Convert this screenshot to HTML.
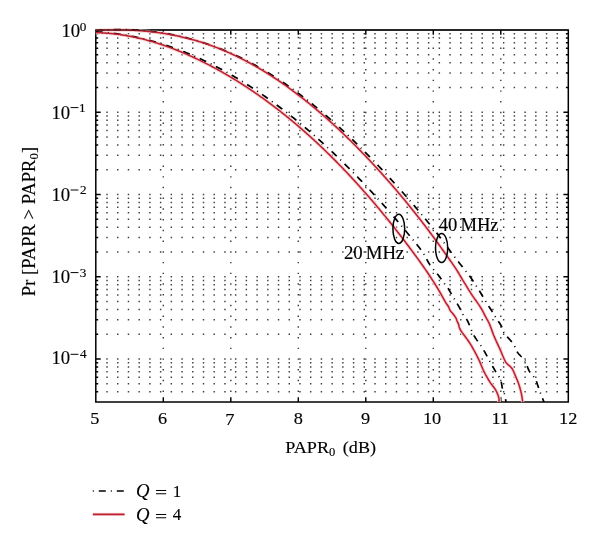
<!DOCTYPE html>
<html><head><meta charset="utf-8"><style>
html,body{margin:0;padding:0;background:#fff;width:600px;height:547px;overflow:hidden}
svg{position:absolute;left:0;top:0;display:block;will-change:transform}
</style></head><body>
<svg width="600" height="547" viewBox="0 0 600 547">
<path d="M106.30,111.52h1.45v1.45h-1.45zM117.02,111.52h1.45v1.45h-1.45zM127.74,111.52h1.45v1.45h-1.45zM138.46,111.52h1.45v1.45h-1.45zM149.18,111.52h1.45v1.45h-1.45zM159.90,111.52h1.45v1.45h-1.45zM170.62,111.52h1.45v1.45h-1.45zM181.34,111.52h1.45v1.45h-1.45zM192.06,111.52h1.45v1.45h-1.45zM202.78,111.52h1.45v1.45h-1.45zM213.50,111.52h1.45v1.45h-1.45zM224.22,111.52h1.45v1.45h-1.45zM234.94,111.52h1.45v1.45h-1.45zM245.66,111.52h1.45v1.45h-1.45zM256.38,111.52h1.45v1.45h-1.45zM267.10,111.52h1.45v1.45h-1.45zM277.82,111.52h1.45v1.45h-1.45zM288.54,111.52h1.45v1.45h-1.45zM299.26,111.52h1.45v1.45h-1.45zM309.98,111.52h1.45v1.45h-1.45zM320.70,111.52h1.45v1.45h-1.45zM331.42,111.52h1.45v1.45h-1.45zM342.14,111.52h1.45v1.45h-1.45zM352.86,111.52h1.45v1.45h-1.45zM363.58,111.52h1.45v1.45h-1.45zM374.30,111.52h1.45v1.45h-1.45zM385.02,111.52h1.45v1.45h-1.45zM395.74,111.52h1.45v1.45h-1.45zM406.46,111.52h1.45v1.45h-1.45zM417.18,111.52h1.45v1.45h-1.45zM427.90,111.52h1.45v1.45h-1.45zM438.62,111.52h1.45v1.45h-1.45zM449.34,111.52h1.45v1.45h-1.45zM460.06,111.52h1.45v1.45h-1.45zM470.78,111.52h1.45v1.45h-1.45zM481.50,111.52h1.45v1.45h-1.45zM492.22,111.52h1.45v1.45h-1.45zM502.94,111.52h1.45v1.45h-1.45zM513.66,111.52h1.45v1.45h-1.45zM524.38,111.52h1.45v1.45h-1.45zM535.10,111.52h1.45v1.45h-1.45zM545.82,111.52h1.45v1.45h-1.45zM556.54,111.52h1.45v1.45h-1.45zM106.30,86.76h1.45v1.45h-1.45zM117.02,86.76h1.45v1.45h-1.45zM127.74,86.76h1.45v1.45h-1.45zM138.46,86.76h1.45v1.45h-1.45zM149.18,86.76h1.45v1.45h-1.45zM159.90,86.76h1.45v1.45h-1.45zM170.62,86.76h1.45v1.45h-1.45zM181.34,86.76h1.45v1.45h-1.45zM192.06,86.76h1.45v1.45h-1.45zM202.78,86.76h1.45v1.45h-1.45zM213.50,86.76h1.45v1.45h-1.45zM224.22,86.76h1.45v1.45h-1.45zM234.94,86.76h1.45v1.45h-1.45zM245.66,86.76h1.45v1.45h-1.45zM256.38,86.76h1.45v1.45h-1.45zM267.10,86.76h1.45v1.45h-1.45zM277.82,86.76h1.45v1.45h-1.45zM288.54,86.76h1.45v1.45h-1.45zM299.26,86.76h1.45v1.45h-1.45zM309.98,86.76h1.45v1.45h-1.45zM320.70,86.76h1.45v1.45h-1.45zM331.42,86.76h1.45v1.45h-1.45zM342.14,86.76h1.45v1.45h-1.45zM352.86,86.76h1.45v1.45h-1.45zM363.58,86.76h1.45v1.45h-1.45zM374.30,86.76h1.45v1.45h-1.45zM385.02,86.76h1.45v1.45h-1.45zM395.74,86.76h1.45v1.45h-1.45zM406.46,86.76h1.45v1.45h-1.45zM417.18,86.76h1.45v1.45h-1.45zM427.90,86.76h1.45v1.45h-1.45zM438.62,86.76h1.45v1.45h-1.45zM449.34,86.76h1.45v1.45h-1.45zM460.06,86.76h1.45v1.45h-1.45zM470.78,86.76h1.45v1.45h-1.45zM481.50,86.76h1.45v1.45h-1.45zM492.22,86.76h1.45v1.45h-1.45zM502.94,86.76h1.45v1.45h-1.45zM513.66,86.76h1.45v1.45h-1.45zM524.38,86.76h1.45v1.45h-1.45zM535.10,86.76h1.45v1.45h-1.45zM545.82,86.76h1.45v1.45h-1.45zM556.54,86.76h1.45v1.45h-1.45zM106.30,72.28h1.45v1.45h-1.45zM117.02,72.28h1.45v1.45h-1.45zM127.74,72.28h1.45v1.45h-1.45zM138.46,72.28h1.45v1.45h-1.45zM149.18,72.28h1.45v1.45h-1.45zM159.90,72.28h1.45v1.45h-1.45zM170.62,72.28h1.45v1.45h-1.45zM181.34,72.28h1.45v1.45h-1.45zM192.06,72.28h1.45v1.45h-1.45zM202.78,72.28h1.45v1.45h-1.45zM213.50,72.28h1.45v1.45h-1.45zM224.22,72.28h1.45v1.45h-1.45zM234.94,72.28h1.45v1.45h-1.45zM245.66,72.28h1.45v1.45h-1.45zM256.38,72.28h1.45v1.45h-1.45zM267.10,72.28h1.45v1.45h-1.45zM277.82,72.28h1.45v1.45h-1.45zM288.54,72.28h1.45v1.45h-1.45zM299.26,72.28h1.45v1.45h-1.45zM309.98,72.28h1.45v1.45h-1.45zM320.70,72.28h1.45v1.45h-1.45zM331.42,72.28h1.45v1.45h-1.45zM342.14,72.28h1.45v1.45h-1.45zM352.86,72.28h1.45v1.45h-1.45zM363.58,72.28h1.45v1.45h-1.45zM374.30,72.28h1.45v1.45h-1.45zM385.02,72.28h1.45v1.45h-1.45zM395.74,72.28h1.45v1.45h-1.45zM406.46,72.28h1.45v1.45h-1.45zM417.18,72.28h1.45v1.45h-1.45zM427.90,72.28h1.45v1.45h-1.45zM438.62,72.28h1.45v1.45h-1.45zM449.34,72.28h1.45v1.45h-1.45zM460.06,72.28h1.45v1.45h-1.45zM470.78,72.28h1.45v1.45h-1.45zM481.50,72.28h1.45v1.45h-1.45zM492.22,72.28h1.45v1.45h-1.45zM502.94,72.28h1.45v1.45h-1.45zM513.66,72.28h1.45v1.45h-1.45zM524.38,72.28h1.45v1.45h-1.45zM535.10,72.28h1.45v1.45h-1.45zM545.82,72.28h1.45v1.45h-1.45zM556.54,72.28h1.45v1.45h-1.45zM106.30,62.00h1.45v1.45h-1.45zM117.02,62.00h1.45v1.45h-1.45zM127.74,62.00h1.45v1.45h-1.45zM138.46,62.00h1.45v1.45h-1.45zM149.18,62.00h1.45v1.45h-1.45zM159.90,62.00h1.45v1.45h-1.45zM170.62,62.00h1.45v1.45h-1.45zM181.34,62.00h1.45v1.45h-1.45zM192.06,62.00h1.45v1.45h-1.45zM202.78,62.00h1.45v1.45h-1.45zM213.50,62.00h1.45v1.45h-1.45zM224.22,62.00h1.45v1.45h-1.45zM234.94,62.00h1.45v1.45h-1.45zM245.66,62.00h1.45v1.45h-1.45zM256.38,62.00h1.45v1.45h-1.45zM267.10,62.00h1.45v1.45h-1.45zM277.82,62.00h1.45v1.45h-1.45zM288.54,62.00h1.45v1.45h-1.45zM299.26,62.00h1.45v1.45h-1.45zM309.98,62.00h1.45v1.45h-1.45zM320.70,62.00h1.45v1.45h-1.45zM331.42,62.00h1.45v1.45h-1.45zM342.14,62.00h1.45v1.45h-1.45zM352.86,62.00h1.45v1.45h-1.45zM363.58,62.00h1.45v1.45h-1.45zM374.30,62.00h1.45v1.45h-1.45zM385.02,62.00h1.45v1.45h-1.45zM395.74,62.00h1.45v1.45h-1.45zM406.46,62.00h1.45v1.45h-1.45zM417.18,62.00h1.45v1.45h-1.45zM427.90,62.00h1.45v1.45h-1.45zM438.62,62.00h1.45v1.45h-1.45zM449.34,62.00h1.45v1.45h-1.45zM460.06,62.00h1.45v1.45h-1.45zM470.78,62.00h1.45v1.45h-1.45zM481.50,62.00h1.45v1.45h-1.45zM492.22,62.00h1.45v1.45h-1.45zM502.94,62.00h1.45v1.45h-1.45zM513.66,62.00h1.45v1.45h-1.45zM524.38,62.00h1.45v1.45h-1.45zM535.10,62.00h1.45v1.45h-1.45zM545.82,62.00h1.45v1.45h-1.45zM556.54,62.00h1.45v1.45h-1.45zM106.30,54.03h1.45v1.45h-1.45zM117.02,54.03h1.45v1.45h-1.45zM127.74,54.03h1.45v1.45h-1.45zM138.46,54.03h1.45v1.45h-1.45zM149.18,54.03h1.45v1.45h-1.45zM159.90,54.03h1.45v1.45h-1.45zM170.62,54.03h1.45v1.45h-1.45zM181.34,54.03h1.45v1.45h-1.45zM192.06,54.03h1.45v1.45h-1.45zM202.78,54.03h1.45v1.45h-1.45zM213.50,54.03h1.45v1.45h-1.45zM224.22,54.03h1.45v1.45h-1.45zM234.94,54.03h1.45v1.45h-1.45zM245.66,54.03h1.45v1.45h-1.45zM256.38,54.03h1.45v1.45h-1.45zM267.10,54.03h1.45v1.45h-1.45zM277.82,54.03h1.45v1.45h-1.45zM288.54,54.03h1.45v1.45h-1.45zM299.26,54.03h1.45v1.45h-1.45zM309.98,54.03h1.45v1.45h-1.45zM320.70,54.03h1.45v1.45h-1.45zM331.42,54.03h1.45v1.45h-1.45zM342.14,54.03h1.45v1.45h-1.45zM352.86,54.03h1.45v1.45h-1.45zM363.58,54.03h1.45v1.45h-1.45zM374.30,54.03h1.45v1.45h-1.45zM385.02,54.03h1.45v1.45h-1.45zM395.74,54.03h1.45v1.45h-1.45zM406.46,54.03h1.45v1.45h-1.45zM417.18,54.03h1.45v1.45h-1.45zM427.90,54.03h1.45v1.45h-1.45zM438.62,54.03h1.45v1.45h-1.45zM449.34,54.03h1.45v1.45h-1.45zM460.06,54.03h1.45v1.45h-1.45zM470.78,54.03h1.45v1.45h-1.45zM481.50,54.03h1.45v1.45h-1.45zM492.22,54.03h1.45v1.45h-1.45zM502.94,54.03h1.45v1.45h-1.45zM513.66,54.03h1.45v1.45h-1.45zM524.38,54.03h1.45v1.45h-1.45zM535.10,54.03h1.45v1.45h-1.45zM545.82,54.03h1.45v1.45h-1.45zM556.54,54.03h1.45v1.45h-1.45zM106.30,47.52h1.45v1.45h-1.45zM117.02,47.52h1.45v1.45h-1.45zM127.74,47.52h1.45v1.45h-1.45zM138.46,47.52h1.45v1.45h-1.45zM149.18,47.52h1.45v1.45h-1.45zM159.90,47.52h1.45v1.45h-1.45zM170.62,47.52h1.45v1.45h-1.45zM181.34,47.52h1.45v1.45h-1.45zM192.06,47.52h1.45v1.45h-1.45zM202.78,47.52h1.45v1.45h-1.45zM213.50,47.52h1.45v1.45h-1.45zM224.22,47.52h1.45v1.45h-1.45zM234.94,47.52h1.45v1.45h-1.45zM245.66,47.52h1.45v1.45h-1.45zM256.38,47.52h1.45v1.45h-1.45zM267.10,47.52h1.45v1.45h-1.45zM277.82,47.52h1.45v1.45h-1.45zM288.54,47.52h1.45v1.45h-1.45zM299.26,47.52h1.45v1.45h-1.45zM309.98,47.52h1.45v1.45h-1.45zM320.70,47.52h1.45v1.45h-1.45zM331.42,47.52h1.45v1.45h-1.45zM342.14,47.52h1.45v1.45h-1.45zM352.86,47.52h1.45v1.45h-1.45zM363.58,47.52h1.45v1.45h-1.45zM374.30,47.52h1.45v1.45h-1.45zM385.02,47.52h1.45v1.45h-1.45zM395.74,47.52h1.45v1.45h-1.45zM406.46,47.52h1.45v1.45h-1.45zM417.18,47.52h1.45v1.45h-1.45zM427.90,47.52h1.45v1.45h-1.45zM438.62,47.52h1.45v1.45h-1.45zM449.34,47.52h1.45v1.45h-1.45zM460.06,47.52h1.45v1.45h-1.45zM470.78,47.52h1.45v1.45h-1.45zM481.50,47.52h1.45v1.45h-1.45zM492.22,47.52h1.45v1.45h-1.45zM502.94,47.52h1.45v1.45h-1.45zM513.66,47.52h1.45v1.45h-1.45zM524.38,47.52h1.45v1.45h-1.45zM535.10,47.52h1.45v1.45h-1.45zM545.82,47.52h1.45v1.45h-1.45zM556.54,47.52h1.45v1.45h-1.45zM106.30,42.02h1.45v1.45h-1.45zM117.02,42.02h1.45v1.45h-1.45zM127.74,42.02h1.45v1.45h-1.45zM138.46,42.02h1.45v1.45h-1.45zM149.18,42.02h1.45v1.45h-1.45zM159.90,42.02h1.45v1.45h-1.45zM170.62,42.02h1.45v1.45h-1.45zM181.34,42.02h1.45v1.45h-1.45zM192.06,42.02h1.45v1.45h-1.45zM202.78,42.02h1.45v1.45h-1.45zM213.50,42.02h1.45v1.45h-1.45zM224.22,42.02h1.45v1.45h-1.45zM234.94,42.02h1.45v1.45h-1.45zM245.66,42.02h1.45v1.45h-1.45zM256.38,42.02h1.45v1.45h-1.45zM267.10,42.02h1.45v1.45h-1.45zM277.82,42.02h1.45v1.45h-1.45zM288.54,42.02h1.45v1.45h-1.45zM299.26,42.02h1.45v1.45h-1.45zM309.98,42.02h1.45v1.45h-1.45zM320.70,42.02h1.45v1.45h-1.45zM331.42,42.02h1.45v1.45h-1.45zM342.14,42.02h1.45v1.45h-1.45zM352.86,42.02h1.45v1.45h-1.45zM363.58,42.02h1.45v1.45h-1.45zM374.30,42.02h1.45v1.45h-1.45zM385.02,42.02h1.45v1.45h-1.45zM395.74,42.02h1.45v1.45h-1.45zM406.46,42.02h1.45v1.45h-1.45zM417.18,42.02h1.45v1.45h-1.45zM427.90,42.02h1.45v1.45h-1.45zM438.62,42.02h1.45v1.45h-1.45zM449.34,42.02h1.45v1.45h-1.45zM460.06,42.02h1.45v1.45h-1.45zM470.78,42.02h1.45v1.45h-1.45zM481.50,42.02h1.45v1.45h-1.45zM492.22,42.02h1.45v1.45h-1.45zM502.94,42.02h1.45v1.45h-1.45zM513.66,42.02h1.45v1.45h-1.45zM524.38,42.02h1.45v1.45h-1.45zM535.10,42.02h1.45v1.45h-1.45zM545.82,42.02h1.45v1.45h-1.45zM556.54,42.02h1.45v1.45h-1.45zM106.30,37.25h1.45v1.45h-1.45zM117.02,37.25h1.45v1.45h-1.45zM127.74,37.25h1.45v1.45h-1.45zM138.46,37.25h1.45v1.45h-1.45zM149.18,37.25h1.45v1.45h-1.45zM159.90,37.25h1.45v1.45h-1.45zM170.62,37.25h1.45v1.45h-1.45zM181.34,37.25h1.45v1.45h-1.45zM192.06,37.25h1.45v1.45h-1.45zM202.78,37.25h1.45v1.45h-1.45zM213.50,37.25h1.45v1.45h-1.45zM224.22,37.25h1.45v1.45h-1.45zM234.94,37.25h1.45v1.45h-1.45zM245.66,37.25h1.45v1.45h-1.45zM256.38,37.25h1.45v1.45h-1.45zM267.10,37.25h1.45v1.45h-1.45zM277.82,37.25h1.45v1.45h-1.45zM288.54,37.25h1.45v1.45h-1.45zM299.26,37.25h1.45v1.45h-1.45zM309.98,37.25h1.45v1.45h-1.45zM320.70,37.25h1.45v1.45h-1.45zM331.42,37.25h1.45v1.45h-1.45zM342.14,37.25h1.45v1.45h-1.45zM352.86,37.25h1.45v1.45h-1.45zM363.58,37.25h1.45v1.45h-1.45zM374.30,37.25h1.45v1.45h-1.45zM385.02,37.25h1.45v1.45h-1.45zM395.74,37.25h1.45v1.45h-1.45zM406.46,37.25h1.45v1.45h-1.45zM417.18,37.25h1.45v1.45h-1.45zM427.90,37.25h1.45v1.45h-1.45zM438.62,37.25h1.45v1.45h-1.45zM449.34,37.25h1.45v1.45h-1.45zM460.06,37.25h1.45v1.45h-1.45zM470.78,37.25h1.45v1.45h-1.45zM481.50,37.25h1.45v1.45h-1.45zM492.22,37.25h1.45v1.45h-1.45zM502.94,37.25h1.45v1.45h-1.45zM513.66,37.25h1.45v1.45h-1.45zM524.38,37.25h1.45v1.45h-1.45zM535.10,37.25h1.45v1.45h-1.45zM545.82,37.25h1.45v1.45h-1.45zM556.54,37.25h1.45v1.45h-1.45zM106.30,33.04h1.45v1.45h-1.45zM117.02,33.04h1.45v1.45h-1.45zM127.74,33.04h1.45v1.45h-1.45zM138.46,33.04h1.45v1.45h-1.45zM149.18,33.04h1.45v1.45h-1.45zM159.90,33.04h1.45v1.45h-1.45zM170.62,33.04h1.45v1.45h-1.45zM181.34,33.04h1.45v1.45h-1.45zM192.06,33.04h1.45v1.45h-1.45zM202.78,33.04h1.45v1.45h-1.45zM213.50,33.04h1.45v1.45h-1.45zM224.22,33.04h1.45v1.45h-1.45zM234.94,33.04h1.45v1.45h-1.45zM245.66,33.04h1.45v1.45h-1.45zM256.38,33.04h1.45v1.45h-1.45zM267.10,33.04h1.45v1.45h-1.45zM277.82,33.04h1.45v1.45h-1.45zM288.54,33.04h1.45v1.45h-1.45zM299.26,33.04h1.45v1.45h-1.45zM309.98,33.04h1.45v1.45h-1.45zM320.70,33.04h1.45v1.45h-1.45zM331.42,33.04h1.45v1.45h-1.45zM342.14,33.04h1.45v1.45h-1.45zM352.86,33.04h1.45v1.45h-1.45zM363.58,33.04h1.45v1.45h-1.45zM374.30,33.04h1.45v1.45h-1.45zM385.02,33.04h1.45v1.45h-1.45zM395.74,33.04h1.45v1.45h-1.45zM406.46,33.04h1.45v1.45h-1.45zM417.18,33.04h1.45v1.45h-1.45zM427.90,33.04h1.45v1.45h-1.45zM438.62,33.04h1.45v1.45h-1.45zM449.34,33.04h1.45v1.45h-1.45zM460.06,33.04h1.45v1.45h-1.45zM470.78,33.04h1.45v1.45h-1.45zM481.50,33.04h1.45v1.45h-1.45zM492.22,33.04h1.45v1.45h-1.45zM502.94,33.04h1.45v1.45h-1.45zM513.66,33.04h1.45v1.45h-1.45zM524.38,33.04h1.45v1.45h-1.45zM535.10,33.04h1.45v1.45h-1.45zM545.82,33.04h1.45v1.45h-1.45zM556.54,33.04h1.45v1.45h-1.45zM106.30,193.77h1.45v1.45h-1.45zM117.02,193.77h1.45v1.45h-1.45zM127.74,193.77h1.45v1.45h-1.45zM138.46,193.77h1.45v1.45h-1.45zM149.18,193.77h1.45v1.45h-1.45zM159.90,193.77h1.45v1.45h-1.45zM170.62,193.77h1.45v1.45h-1.45zM181.34,193.77h1.45v1.45h-1.45zM192.06,193.77h1.45v1.45h-1.45zM202.78,193.77h1.45v1.45h-1.45zM213.50,193.77h1.45v1.45h-1.45zM224.22,193.77h1.45v1.45h-1.45zM234.94,193.77h1.45v1.45h-1.45zM245.66,193.77h1.45v1.45h-1.45zM256.38,193.77h1.45v1.45h-1.45zM267.10,193.77h1.45v1.45h-1.45zM277.82,193.77h1.45v1.45h-1.45zM288.54,193.77h1.45v1.45h-1.45zM299.26,193.77h1.45v1.45h-1.45zM309.98,193.77h1.45v1.45h-1.45zM320.70,193.77h1.45v1.45h-1.45zM331.42,193.77h1.45v1.45h-1.45zM342.14,193.77h1.45v1.45h-1.45zM352.86,193.77h1.45v1.45h-1.45zM363.58,193.77h1.45v1.45h-1.45zM374.30,193.77h1.45v1.45h-1.45zM385.02,193.77h1.45v1.45h-1.45zM395.74,193.77h1.45v1.45h-1.45zM406.46,193.77h1.45v1.45h-1.45zM417.18,193.77h1.45v1.45h-1.45zM427.90,193.77h1.45v1.45h-1.45zM438.62,193.77h1.45v1.45h-1.45zM449.34,193.77h1.45v1.45h-1.45zM460.06,193.77h1.45v1.45h-1.45zM470.78,193.77h1.45v1.45h-1.45zM481.50,193.77h1.45v1.45h-1.45zM492.22,193.77h1.45v1.45h-1.45zM502.94,193.77h1.45v1.45h-1.45zM513.66,193.77h1.45v1.45h-1.45zM524.38,193.77h1.45v1.45h-1.45zM535.10,193.77h1.45v1.45h-1.45zM545.82,193.77h1.45v1.45h-1.45zM556.54,193.77h1.45v1.45h-1.45zM106.30,169.01h1.45v1.45h-1.45zM117.02,169.01h1.45v1.45h-1.45zM127.74,169.01h1.45v1.45h-1.45zM138.46,169.01h1.45v1.45h-1.45zM149.18,169.01h1.45v1.45h-1.45zM159.90,169.01h1.45v1.45h-1.45zM170.62,169.01h1.45v1.45h-1.45zM181.34,169.01h1.45v1.45h-1.45zM192.06,169.01h1.45v1.45h-1.45zM202.78,169.01h1.45v1.45h-1.45zM213.50,169.01h1.45v1.45h-1.45zM224.22,169.01h1.45v1.45h-1.45zM234.94,169.01h1.45v1.45h-1.45zM245.66,169.01h1.45v1.45h-1.45zM256.38,169.01h1.45v1.45h-1.45zM267.10,169.01h1.45v1.45h-1.45zM277.82,169.01h1.45v1.45h-1.45zM288.54,169.01h1.45v1.45h-1.45zM299.26,169.01h1.45v1.45h-1.45zM309.98,169.01h1.45v1.45h-1.45zM320.70,169.01h1.45v1.45h-1.45zM331.42,169.01h1.45v1.45h-1.45zM342.14,169.01h1.45v1.45h-1.45zM352.86,169.01h1.45v1.45h-1.45zM363.58,169.01h1.45v1.45h-1.45zM374.30,169.01h1.45v1.45h-1.45zM385.02,169.01h1.45v1.45h-1.45zM395.74,169.01h1.45v1.45h-1.45zM406.46,169.01h1.45v1.45h-1.45zM417.18,169.01h1.45v1.45h-1.45zM427.90,169.01h1.45v1.45h-1.45zM438.62,169.01h1.45v1.45h-1.45zM449.34,169.01h1.45v1.45h-1.45zM460.06,169.01h1.45v1.45h-1.45zM470.78,169.01h1.45v1.45h-1.45zM481.50,169.01h1.45v1.45h-1.45zM492.22,169.01h1.45v1.45h-1.45zM502.94,169.01h1.45v1.45h-1.45zM513.66,169.01h1.45v1.45h-1.45zM524.38,169.01h1.45v1.45h-1.45zM535.10,169.01h1.45v1.45h-1.45zM545.82,169.01h1.45v1.45h-1.45zM556.54,169.01h1.45v1.45h-1.45zM106.30,154.53h1.45v1.45h-1.45zM117.02,154.53h1.45v1.45h-1.45zM127.74,154.53h1.45v1.45h-1.45zM138.46,154.53h1.45v1.45h-1.45zM149.18,154.53h1.45v1.45h-1.45zM159.90,154.53h1.45v1.45h-1.45zM170.62,154.53h1.45v1.45h-1.45zM181.34,154.53h1.45v1.45h-1.45zM192.06,154.53h1.45v1.45h-1.45zM202.78,154.53h1.45v1.45h-1.45zM213.50,154.53h1.45v1.45h-1.45zM224.22,154.53h1.45v1.45h-1.45zM234.94,154.53h1.45v1.45h-1.45zM245.66,154.53h1.45v1.45h-1.45zM256.38,154.53h1.45v1.45h-1.45zM267.10,154.53h1.45v1.45h-1.45zM277.82,154.53h1.45v1.45h-1.45zM288.54,154.53h1.45v1.45h-1.45zM299.26,154.53h1.45v1.45h-1.45zM309.98,154.53h1.45v1.45h-1.45zM320.70,154.53h1.45v1.45h-1.45zM331.42,154.53h1.45v1.45h-1.45zM342.14,154.53h1.45v1.45h-1.45zM352.86,154.53h1.45v1.45h-1.45zM363.58,154.53h1.45v1.45h-1.45zM374.30,154.53h1.45v1.45h-1.45zM385.02,154.53h1.45v1.45h-1.45zM395.74,154.53h1.45v1.45h-1.45zM406.46,154.53h1.45v1.45h-1.45zM417.18,154.53h1.45v1.45h-1.45zM427.90,154.53h1.45v1.45h-1.45zM438.62,154.53h1.45v1.45h-1.45zM449.34,154.53h1.45v1.45h-1.45zM460.06,154.53h1.45v1.45h-1.45zM470.78,154.53h1.45v1.45h-1.45zM481.50,154.53h1.45v1.45h-1.45zM492.22,154.53h1.45v1.45h-1.45zM502.94,154.53h1.45v1.45h-1.45zM513.66,154.53h1.45v1.45h-1.45zM524.38,154.53h1.45v1.45h-1.45zM535.10,154.53h1.45v1.45h-1.45zM545.82,154.53h1.45v1.45h-1.45zM556.54,154.53h1.45v1.45h-1.45zM106.30,144.25h1.45v1.45h-1.45zM117.02,144.25h1.45v1.45h-1.45zM127.74,144.25h1.45v1.45h-1.45zM138.46,144.25h1.45v1.45h-1.45zM149.18,144.25h1.45v1.45h-1.45zM159.90,144.25h1.45v1.45h-1.45zM170.62,144.25h1.45v1.45h-1.45zM181.34,144.25h1.45v1.45h-1.45zM192.06,144.25h1.45v1.45h-1.45zM202.78,144.25h1.45v1.45h-1.45zM213.50,144.25h1.45v1.45h-1.45zM224.22,144.25h1.45v1.45h-1.45zM234.94,144.25h1.45v1.45h-1.45zM245.66,144.25h1.45v1.45h-1.45zM256.38,144.25h1.45v1.45h-1.45zM267.10,144.25h1.45v1.45h-1.45zM277.82,144.25h1.45v1.45h-1.45zM288.54,144.25h1.45v1.45h-1.45zM299.26,144.25h1.45v1.45h-1.45zM309.98,144.25h1.45v1.45h-1.45zM320.70,144.25h1.45v1.45h-1.45zM331.42,144.25h1.45v1.45h-1.45zM342.14,144.25h1.45v1.45h-1.45zM352.86,144.25h1.45v1.45h-1.45zM363.58,144.25h1.45v1.45h-1.45zM374.30,144.25h1.45v1.45h-1.45zM385.02,144.25h1.45v1.45h-1.45zM395.74,144.25h1.45v1.45h-1.45zM406.46,144.25h1.45v1.45h-1.45zM417.18,144.25h1.45v1.45h-1.45zM427.90,144.25h1.45v1.45h-1.45zM438.62,144.25h1.45v1.45h-1.45zM449.34,144.25h1.45v1.45h-1.45zM460.06,144.25h1.45v1.45h-1.45zM470.78,144.25h1.45v1.45h-1.45zM481.50,144.25h1.45v1.45h-1.45zM492.22,144.25h1.45v1.45h-1.45zM502.94,144.25h1.45v1.45h-1.45zM513.66,144.25h1.45v1.45h-1.45zM524.38,144.25h1.45v1.45h-1.45zM535.10,144.25h1.45v1.45h-1.45zM545.82,144.25h1.45v1.45h-1.45zM556.54,144.25h1.45v1.45h-1.45zM106.30,136.28h1.45v1.45h-1.45zM117.02,136.28h1.45v1.45h-1.45zM127.74,136.28h1.45v1.45h-1.45zM138.46,136.28h1.45v1.45h-1.45zM149.18,136.28h1.45v1.45h-1.45zM159.90,136.28h1.45v1.45h-1.45zM170.62,136.28h1.45v1.45h-1.45zM181.34,136.28h1.45v1.45h-1.45zM192.06,136.28h1.45v1.45h-1.45zM202.78,136.28h1.45v1.45h-1.45zM213.50,136.28h1.45v1.45h-1.45zM224.22,136.28h1.45v1.45h-1.45zM234.94,136.28h1.45v1.45h-1.45zM245.66,136.28h1.45v1.45h-1.45zM256.38,136.28h1.45v1.45h-1.45zM267.10,136.28h1.45v1.45h-1.45zM277.82,136.28h1.45v1.45h-1.45zM288.54,136.28h1.45v1.45h-1.45zM299.26,136.28h1.45v1.45h-1.45zM309.98,136.28h1.45v1.45h-1.45zM320.70,136.28h1.45v1.45h-1.45zM331.42,136.28h1.45v1.45h-1.45zM342.14,136.28h1.45v1.45h-1.45zM352.86,136.28h1.45v1.45h-1.45zM363.58,136.28h1.45v1.45h-1.45zM374.30,136.28h1.45v1.45h-1.45zM385.02,136.28h1.45v1.45h-1.45zM395.74,136.28h1.45v1.45h-1.45zM406.46,136.28h1.45v1.45h-1.45zM417.18,136.28h1.45v1.45h-1.45zM427.90,136.28h1.45v1.45h-1.45zM438.62,136.28h1.45v1.45h-1.45zM449.34,136.28h1.45v1.45h-1.45zM460.06,136.28h1.45v1.45h-1.45zM470.78,136.28h1.45v1.45h-1.45zM481.50,136.28h1.45v1.45h-1.45zM492.22,136.28h1.45v1.45h-1.45zM502.94,136.28h1.45v1.45h-1.45zM513.66,136.28h1.45v1.45h-1.45zM524.38,136.28h1.45v1.45h-1.45zM535.10,136.28h1.45v1.45h-1.45zM545.82,136.28h1.45v1.45h-1.45zM556.54,136.28h1.45v1.45h-1.45zM106.30,129.77h1.45v1.45h-1.45zM117.02,129.77h1.45v1.45h-1.45zM127.74,129.77h1.45v1.45h-1.45zM138.46,129.77h1.45v1.45h-1.45zM149.18,129.77h1.45v1.45h-1.45zM159.90,129.77h1.45v1.45h-1.45zM170.62,129.77h1.45v1.45h-1.45zM181.34,129.77h1.45v1.45h-1.45zM192.06,129.77h1.45v1.45h-1.45zM202.78,129.77h1.45v1.45h-1.45zM213.50,129.77h1.45v1.45h-1.45zM224.22,129.77h1.45v1.45h-1.45zM234.94,129.77h1.45v1.45h-1.45zM245.66,129.77h1.45v1.45h-1.45zM256.38,129.77h1.45v1.45h-1.45zM267.10,129.77h1.45v1.45h-1.45zM277.82,129.77h1.45v1.45h-1.45zM288.54,129.77h1.45v1.45h-1.45zM299.26,129.77h1.45v1.45h-1.45zM309.98,129.77h1.45v1.45h-1.45zM320.70,129.77h1.45v1.45h-1.45zM331.42,129.77h1.45v1.45h-1.45zM342.14,129.77h1.45v1.45h-1.45zM352.86,129.77h1.45v1.45h-1.45zM363.58,129.77h1.45v1.45h-1.45zM374.30,129.77h1.45v1.45h-1.45zM385.02,129.77h1.45v1.45h-1.45zM395.74,129.77h1.45v1.45h-1.45zM406.46,129.77h1.45v1.45h-1.45zM417.18,129.77h1.45v1.45h-1.45zM427.90,129.77h1.45v1.45h-1.45zM438.62,129.77h1.45v1.45h-1.45zM449.34,129.77h1.45v1.45h-1.45zM460.06,129.77h1.45v1.45h-1.45zM470.78,129.77h1.45v1.45h-1.45zM481.50,129.77h1.45v1.45h-1.45zM492.22,129.77h1.45v1.45h-1.45zM502.94,129.77h1.45v1.45h-1.45zM513.66,129.77h1.45v1.45h-1.45zM524.38,129.77h1.45v1.45h-1.45zM535.10,129.77h1.45v1.45h-1.45zM545.82,129.77h1.45v1.45h-1.45zM556.54,129.77h1.45v1.45h-1.45zM106.30,124.26h1.45v1.45h-1.45zM117.02,124.26h1.45v1.45h-1.45zM127.74,124.26h1.45v1.45h-1.45zM138.46,124.26h1.45v1.45h-1.45zM149.18,124.26h1.45v1.45h-1.45zM159.90,124.26h1.45v1.45h-1.45zM170.62,124.26h1.45v1.45h-1.45zM181.34,124.26h1.45v1.45h-1.45zM192.06,124.26h1.45v1.45h-1.45zM202.78,124.26h1.45v1.45h-1.45zM213.50,124.26h1.45v1.45h-1.45zM224.22,124.26h1.45v1.45h-1.45zM234.94,124.26h1.45v1.45h-1.45zM245.66,124.26h1.45v1.45h-1.45zM256.38,124.26h1.45v1.45h-1.45zM267.10,124.26h1.45v1.45h-1.45zM277.82,124.26h1.45v1.45h-1.45zM288.54,124.26h1.45v1.45h-1.45zM299.26,124.26h1.45v1.45h-1.45zM309.98,124.26h1.45v1.45h-1.45zM320.70,124.26h1.45v1.45h-1.45zM331.42,124.26h1.45v1.45h-1.45zM342.14,124.26h1.45v1.45h-1.45zM352.86,124.26h1.45v1.45h-1.45zM363.58,124.26h1.45v1.45h-1.45zM374.30,124.26h1.45v1.45h-1.45zM385.02,124.26h1.45v1.45h-1.45zM395.74,124.26h1.45v1.45h-1.45zM406.46,124.26h1.45v1.45h-1.45zM417.18,124.26h1.45v1.45h-1.45zM427.90,124.26h1.45v1.45h-1.45zM438.62,124.26h1.45v1.45h-1.45zM449.34,124.26h1.45v1.45h-1.45zM460.06,124.26h1.45v1.45h-1.45zM470.78,124.26h1.45v1.45h-1.45zM481.50,124.26h1.45v1.45h-1.45zM492.22,124.26h1.45v1.45h-1.45zM502.94,124.26h1.45v1.45h-1.45zM513.66,124.26h1.45v1.45h-1.45zM524.38,124.26h1.45v1.45h-1.45zM535.10,124.26h1.45v1.45h-1.45zM545.82,124.26h1.45v1.45h-1.45zM556.54,124.26h1.45v1.45h-1.45zM106.30,119.49h1.45v1.45h-1.45zM117.02,119.49h1.45v1.45h-1.45zM127.74,119.49h1.45v1.45h-1.45zM138.46,119.49h1.45v1.45h-1.45zM149.18,119.49h1.45v1.45h-1.45zM159.90,119.49h1.45v1.45h-1.45zM170.62,119.49h1.45v1.45h-1.45zM181.34,119.49h1.45v1.45h-1.45zM192.06,119.49h1.45v1.45h-1.45zM202.78,119.49h1.45v1.45h-1.45zM213.50,119.49h1.45v1.45h-1.45zM224.22,119.49h1.45v1.45h-1.45zM234.94,119.49h1.45v1.45h-1.45zM245.66,119.49h1.45v1.45h-1.45zM256.38,119.49h1.45v1.45h-1.45zM267.10,119.49h1.45v1.45h-1.45zM277.82,119.49h1.45v1.45h-1.45zM288.54,119.49h1.45v1.45h-1.45zM299.26,119.49h1.45v1.45h-1.45zM309.98,119.49h1.45v1.45h-1.45zM320.70,119.49h1.45v1.45h-1.45zM331.42,119.49h1.45v1.45h-1.45zM342.14,119.49h1.45v1.45h-1.45zM352.86,119.49h1.45v1.45h-1.45zM363.58,119.49h1.45v1.45h-1.45zM374.30,119.49h1.45v1.45h-1.45zM385.02,119.49h1.45v1.45h-1.45zM395.74,119.49h1.45v1.45h-1.45zM406.46,119.49h1.45v1.45h-1.45zM417.18,119.49h1.45v1.45h-1.45zM427.90,119.49h1.45v1.45h-1.45zM438.62,119.49h1.45v1.45h-1.45zM449.34,119.49h1.45v1.45h-1.45zM460.06,119.49h1.45v1.45h-1.45zM470.78,119.49h1.45v1.45h-1.45zM481.50,119.49h1.45v1.45h-1.45zM492.22,119.49h1.45v1.45h-1.45zM502.94,119.49h1.45v1.45h-1.45zM513.66,119.49h1.45v1.45h-1.45zM524.38,119.49h1.45v1.45h-1.45zM535.10,119.49h1.45v1.45h-1.45zM545.82,119.49h1.45v1.45h-1.45zM556.54,119.49h1.45v1.45h-1.45zM106.30,115.29h1.45v1.45h-1.45zM117.02,115.29h1.45v1.45h-1.45zM127.74,115.29h1.45v1.45h-1.45zM138.46,115.29h1.45v1.45h-1.45zM149.18,115.29h1.45v1.45h-1.45zM159.90,115.29h1.45v1.45h-1.45zM170.62,115.29h1.45v1.45h-1.45zM181.34,115.29h1.45v1.45h-1.45zM192.06,115.29h1.45v1.45h-1.45zM202.78,115.29h1.45v1.45h-1.45zM213.50,115.29h1.45v1.45h-1.45zM224.22,115.29h1.45v1.45h-1.45zM234.94,115.29h1.45v1.45h-1.45zM245.66,115.29h1.45v1.45h-1.45zM256.38,115.29h1.45v1.45h-1.45zM267.10,115.29h1.45v1.45h-1.45zM277.82,115.29h1.45v1.45h-1.45zM288.54,115.29h1.45v1.45h-1.45zM299.26,115.29h1.45v1.45h-1.45zM309.98,115.29h1.45v1.45h-1.45zM320.70,115.29h1.45v1.45h-1.45zM331.42,115.29h1.45v1.45h-1.45zM342.14,115.29h1.45v1.45h-1.45zM352.86,115.29h1.45v1.45h-1.45zM363.58,115.29h1.45v1.45h-1.45zM374.30,115.29h1.45v1.45h-1.45zM385.02,115.29h1.45v1.45h-1.45zM395.74,115.29h1.45v1.45h-1.45zM406.46,115.29h1.45v1.45h-1.45zM417.18,115.29h1.45v1.45h-1.45zM427.90,115.29h1.45v1.45h-1.45zM438.62,115.29h1.45v1.45h-1.45zM449.34,115.29h1.45v1.45h-1.45zM460.06,115.29h1.45v1.45h-1.45zM470.78,115.29h1.45v1.45h-1.45zM481.50,115.29h1.45v1.45h-1.45zM492.22,115.29h1.45v1.45h-1.45zM502.94,115.29h1.45v1.45h-1.45zM513.66,115.29h1.45v1.45h-1.45zM524.38,115.29h1.45v1.45h-1.45zM535.10,115.29h1.45v1.45h-1.45zM545.82,115.29h1.45v1.45h-1.45zM556.54,115.29h1.45v1.45h-1.45zM106.30,276.02h1.45v1.45h-1.45zM117.02,276.02h1.45v1.45h-1.45zM127.74,276.02h1.45v1.45h-1.45zM138.46,276.02h1.45v1.45h-1.45zM149.18,276.02h1.45v1.45h-1.45zM159.90,276.02h1.45v1.45h-1.45zM170.62,276.02h1.45v1.45h-1.45zM181.34,276.02h1.45v1.45h-1.45zM192.06,276.02h1.45v1.45h-1.45zM202.78,276.02h1.45v1.45h-1.45zM213.50,276.02h1.45v1.45h-1.45zM224.22,276.02h1.45v1.45h-1.45zM234.94,276.02h1.45v1.45h-1.45zM245.66,276.02h1.45v1.45h-1.45zM256.38,276.02h1.45v1.45h-1.45zM267.10,276.02h1.45v1.45h-1.45zM277.82,276.02h1.45v1.45h-1.45zM288.54,276.02h1.45v1.45h-1.45zM299.26,276.02h1.45v1.45h-1.45zM309.98,276.02h1.45v1.45h-1.45zM320.70,276.02h1.45v1.45h-1.45zM331.42,276.02h1.45v1.45h-1.45zM342.14,276.02h1.45v1.45h-1.45zM352.86,276.02h1.45v1.45h-1.45zM363.58,276.02h1.45v1.45h-1.45zM374.30,276.02h1.45v1.45h-1.45zM385.02,276.02h1.45v1.45h-1.45zM395.74,276.02h1.45v1.45h-1.45zM406.46,276.02h1.45v1.45h-1.45zM417.18,276.02h1.45v1.45h-1.45zM427.90,276.02h1.45v1.45h-1.45zM438.62,276.02h1.45v1.45h-1.45zM449.34,276.02h1.45v1.45h-1.45zM460.06,276.02h1.45v1.45h-1.45zM470.78,276.02h1.45v1.45h-1.45zM481.50,276.02h1.45v1.45h-1.45zM492.22,276.02h1.45v1.45h-1.45zM502.94,276.02h1.45v1.45h-1.45zM513.66,276.02h1.45v1.45h-1.45zM524.38,276.02h1.45v1.45h-1.45zM535.10,276.02h1.45v1.45h-1.45zM545.82,276.02h1.45v1.45h-1.45zM556.54,276.02h1.45v1.45h-1.45zM106.30,251.26h1.45v1.45h-1.45zM117.02,251.26h1.45v1.45h-1.45zM127.74,251.26h1.45v1.45h-1.45zM138.46,251.26h1.45v1.45h-1.45zM149.18,251.26h1.45v1.45h-1.45zM159.90,251.26h1.45v1.45h-1.45zM170.62,251.26h1.45v1.45h-1.45zM181.34,251.26h1.45v1.45h-1.45zM192.06,251.26h1.45v1.45h-1.45zM202.78,251.26h1.45v1.45h-1.45zM213.50,251.26h1.45v1.45h-1.45zM224.22,251.26h1.45v1.45h-1.45zM234.94,251.26h1.45v1.45h-1.45zM245.66,251.26h1.45v1.45h-1.45zM256.38,251.26h1.45v1.45h-1.45zM267.10,251.26h1.45v1.45h-1.45zM277.82,251.26h1.45v1.45h-1.45zM288.54,251.26h1.45v1.45h-1.45zM299.26,251.26h1.45v1.45h-1.45zM309.98,251.26h1.45v1.45h-1.45zM320.70,251.26h1.45v1.45h-1.45zM331.42,251.26h1.45v1.45h-1.45zM342.14,251.26h1.45v1.45h-1.45zM352.86,251.26h1.45v1.45h-1.45zM363.58,251.26h1.45v1.45h-1.45zM374.30,251.26h1.45v1.45h-1.45zM385.02,251.26h1.45v1.45h-1.45zM395.74,251.26h1.45v1.45h-1.45zM406.46,251.26h1.45v1.45h-1.45zM417.18,251.26h1.45v1.45h-1.45zM427.90,251.26h1.45v1.45h-1.45zM438.62,251.26h1.45v1.45h-1.45zM449.34,251.26h1.45v1.45h-1.45zM460.06,251.26h1.45v1.45h-1.45zM470.78,251.26h1.45v1.45h-1.45zM481.50,251.26h1.45v1.45h-1.45zM492.22,251.26h1.45v1.45h-1.45zM502.94,251.26h1.45v1.45h-1.45zM513.66,251.26h1.45v1.45h-1.45zM524.38,251.26h1.45v1.45h-1.45zM535.10,251.26h1.45v1.45h-1.45zM545.82,251.26h1.45v1.45h-1.45zM556.54,251.26h1.45v1.45h-1.45zM106.30,236.78h1.45v1.45h-1.45zM117.02,236.78h1.45v1.45h-1.45zM127.74,236.78h1.45v1.45h-1.45zM138.46,236.78h1.45v1.45h-1.45zM149.18,236.78h1.45v1.45h-1.45zM159.90,236.78h1.45v1.45h-1.45zM170.62,236.78h1.45v1.45h-1.45zM181.34,236.78h1.45v1.45h-1.45zM192.06,236.78h1.45v1.45h-1.45zM202.78,236.78h1.45v1.45h-1.45zM213.50,236.78h1.45v1.45h-1.45zM224.22,236.78h1.45v1.45h-1.45zM234.94,236.78h1.45v1.45h-1.45zM245.66,236.78h1.45v1.45h-1.45zM256.38,236.78h1.45v1.45h-1.45zM267.10,236.78h1.45v1.45h-1.45zM277.82,236.78h1.45v1.45h-1.45zM288.54,236.78h1.45v1.45h-1.45zM299.26,236.78h1.45v1.45h-1.45zM309.98,236.78h1.45v1.45h-1.45zM320.70,236.78h1.45v1.45h-1.45zM331.42,236.78h1.45v1.45h-1.45zM342.14,236.78h1.45v1.45h-1.45zM352.86,236.78h1.45v1.45h-1.45zM363.58,236.78h1.45v1.45h-1.45zM374.30,236.78h1.45v1.45h-1.45zM385.02,236.78h1.45v1.45h-1.45zM395.74,236.78h1.45v1.45h-1.45zM406.46,236.78h1.45v1.45h-1.45zM417.18,236.78h1.45v1.45h-1.45zM427.90,236.78h1.45v1.45h-1.45zM438.62,236.78h1.45v1.45h-1.45zM449.34,236.78h1.45v1.45h-1.45zM460.06,236.78h1.45v1.45h-1.45zM470.78,236.78h1.45v1.45h-1.45zM481.50,236.78h1.45v1.45h-1.45zM492.22,236.78h1.45v1.45h-1.45zM502.94,236.78h1.45v1.45h-1.45zM513.66,236.78h1.45v1.45h-1.45zM524.38,236.78h1.45v1.45h-1.45zM535.10,236.78h1.45v1.45h-1.45zM545.82,236.78h1.45v1.45h-1.45zM556.54,236.78h1.45v1.45h-1.45zM106.30,226.50h1.45v1.45h-1.45zM117.02,226.50h1.45v1.45h-1.45zM127.74,226.50h1.45v1.45h-1.45zM138.46,226.50h1.45v1.45h-1.45zM149.18,226.50h1.45v1.45h-1.45zM159.90,226.50h1.45v1.45h-1.45zM170.62,226.50h1.45v1.45h-1.45zM181.34,226.50h1.45v1.45h-1.45zM192.06,226.50h1.45v1.45h-1.45zM202.78,226.50h1.45v1.45h-1.45zM213.50,226.50h1.45v1.45h-1.45zM224.22,226.50h1.45v1.45h-1.45zM234.94,226.50h1.45v1.45h-1.45zM245.66,226.50h1.45v1.45h-1.45zM256.38,226.50h1.45v1.45h-1.45zM267.10,226.50h1.45v1.45h-1.45zM277.82,226.50h1.45v1.45h-1.45zM288.54,226.50h1.45v1.45h-1.45zM299.26,226.50h1.45v1.45h-1.45zM309.98,226.50h1.45v1.45h-1.45zM320.70,226.50h1.45v1.45h-1.45zM331.42,226.50h1.45v1.45h-1.45zM342.14,226.50h1.45v1.45h-1.45zM352.86,226.50h1.45v1.45h-1.45zM363.58,226.50h1.45v1.45h-1.45zM374.30,226.50h1.45v1.45h-1.45zM385.02,226.50h1.45v1.45h-1.45zM395.74,226.50h1.45v1.45h-1.45zM406.46,226.50h1.45v1.45h-1.45zM417.18,226.50h1.45v1.45h-1.45zM427.90,226.50h1.45v1.45h-1.45zM438.62,226.50h1.45v1.45h-1.45zM449.34,226.50h1.45v1.45h-1.45zM460.06,226.50h1.45v1.45h-1.45zM470.78,226.50h1.45v1.45h-1.45zM481.50,226.50h1.45v1.45h-1.45zM492.22,226.50h1.45v1.45h-1.45zM502.94,226.50h1.45v1.45h-1.45zM513.66,226.50h1.45v1.45h-1.45zM524.38,226.50h1.45v1.45h-1.45zM535.10,226.50h1.45v1.45h-1.45zM545.82,226.50h1.45v1.45h-1.45zM556.54,226.50h1.45v1.45h-1.45zM106.30,218.53h1.45v1.45h-1.45zM117.02,218.53h1.45v1.45h-1.45zM127.74,218.53h1.45v1.45h-1.45zM138.46,218.53h1.45v1.45h-1.45zM149.18,218.53h1.45v1.45h-1.45zM159.90,218.53h1.45v1.45h-1.45zM170.62,218.53h1.45v1.45h-1.45zM181.34,218.53h1.45v1.45h-1.45zM192.06,218.53h1.45v1.45h-1.45zM202.78,218.53h1.45v1.45h-1.45zM213.50,218.53h1.45v1.45h-1.45zM224.22,218.53h1.45v1.45h-1.45zM234.94,218.53h1.45v1.45h-1.45zM245.66,218.53h1.45v1.45h-1.45zM256.38,218.53h1.45v1.45h-1.45zM267.10,218.53h1.45v1.45h-1.45zM277.82,218.53h1.45v1.45h-1.45zM288.54,218.53h1.45v1.45h-1.45zM299.26,218.53h1.45v1.45h-1.45zM309.98,218.53h1.45v1.45h-1.45zM320.70,218.53h1.45v1.45h-1.45zM331.42,218.53h1.45v1.45h-1.45zM342.14,218.53h1.45v1.45h-1.45zM352.86,218.53h1.45v1.45h-1.45zM363.58,218.53h1.45v1.45h-1.45zM374.30,218.53h1.45v1.45h-1.45zM385.02,218.53h1.45v1.45h-1.45zM395.74,218.53h1.45v1.45h-1.45zM406.46,218.53h1.45v1.45h-1.45zM417.18,218.53h1.45v1.45h-1.45zM427.90,218.53h1.45v1.45h-1.45zM438.62,218.53h1.45v1.45h-1.45zM449.34,218.53h1.45v1.45h-1.45zM460.06,218.53h1.45v1.45h-1.45zM470.78,218.53h1.45v1.45h-1.45zM481.50,218.53h1.45v1.45h-1.45zM492.22,218.53h1.45v1.45h-1.45zM502.94,218.53h1.45v1.45h-1.45zM513.66,218.53h1.45v1.45h-1.45zM524.38,218.53h1.45v1.45h-1.45zM535.10,218.53h1.45v1.45h-1.45zM545.82,218.53h1.45v1.45h-1.45zM556.54,218.53h1.45v1.45h-1.45zM106.30,212.02h1.45v1.45h-1.45zM117.02,212.02h1.45v1.45h-1.45zM127.74,212.02h1.45v1.45h-1.45zM138.46,212.02h1.45v1.45h-1.45zM149.18,212.02h1.45v1.45h-1.45zM159.90,212.02h1.45v1.45h-1.45zM170.62,212.02h1.45v1.45h-1.45zM181.34,212.02h1.45v1.45h-1.45zM192.06,212.02h1.45v1.45h-1.45zM202.78,212.02h1.45v1.45h-1.45zM213.50,212.02h1.45v1.45h-1.45zM224.22,212.02h1.45v1.45h-1.45zM234.94,212.02h1.45v1.45h-1.45zM245.66,212.02h1.45v1.45h-1.45zM256.38,212.02h1.45v1.45h-1.45zM267.10,212.02h1.45v1.45h-1.45zM277.82,212.02h1.45v1.45h-1.45zM288.54,212.02h1.45v1.45h-1.45zM299.26,212.02h1.45v1.45h-1.45zM309.98,212.02h1.45v1.45h-1.45zM320.70,212.02h1.45v1.45h-1.45zM331.42,212.02h1.45v1.45h-1.45zM342.14,212.02h1.45v1.45h-1.45zM352.86,212.02h1.45v1.45h-1.45zM363.58,212.02h1.45v1.45h-1.45zM374.30,212.02h1.45v1.45h-1.45zM385.02,212.02h1.45v1.45h-1.45zM395.74,212.02h1.45v1.45h-1.45zM406.46,212.02h1.45v1.45h-1.45zM417.18,212.02h1.45v1.45h-1.45zM427.90,212.02h1.45v1.45h-1.45zM438.62,212.02h1.45v1.45h-1.45zM449.34,212.02h1.45v1.45h-1.45zM460.06,212.02h1.45v1.45h-1.45zM470.78,212.02h1.45v1.45h-1.45zM481.50,212.02h1.45v1.45h-1.45zM492.22,212.02h1.45v1.45h-1.45zM502.94,212.02h1.45v1.45h-1.45zM513.66,212.02h1.45v1.45h-1.45zM524.38,212.02h1.45v1.45h-1.45zM535.10,212.02h1.45v1.45h-1.45zM545.82,212.02h1.45v1.45h-1.45zM556.54,212.02h1.45v1.45h-1.45zM106.30,206.51h1.45v1.45h-1.45zM117.02,206.51h1.45v1.45h-1.45zM127.74,206.51h1.45v1.45h-1.45zM138.46,206.51h1.45v1.45h-1.45zM149.18,206.51h1.45v1.45h-1.45zM159.90,206.51h1.45v1.45h-1.45zM170.62,206.51h1.45v1.45h-1.45zM181.34,206.51h1.45v1.45h-1.45zM192.06,206.51h1.45v1.45h-1.45zM202.78,206.51h1.45v1.45h-1.45zM213.50,206.51h1.45v1.45h-1.45zM224.22,206.51h1.45v1.45h-1.45zM234.94,206.51h1.45v1.45h-1.45zM245.66,206.51h1.45v1.45h-1.45zM256.38,206.51h1.45v1.45h-1.45zM267.10,206.51h1.45v1.45h-1.45zM277.82,206.51h1.45v1.45h-1.45zM288.54,206.51h1.45v1.45h-1.45zM299.26,206.51h1.45v1.45h-1.45zM309.98,206.51h1.45v1.45h-1.45zM320.70,206.51h1.45v1.45h-1.45zM331.42,206.51h1.45v1.45h-1.45zM342.14,206.51h1.45v1.45h-1.45zM352.86,206.51h1.45v1.45h-1.45zM363.58,206.51h1.45v1.45h-1.45zM374.30,206.51h1.45v1.45h-1.45zM385.02,206.51h1.45v1.45h-1.45zM395.74,206.51h1.45v1.45h-1.45zM406.46,206.51h1.45v1.45h-1.45zM417.18,206.51h1.45v1.45h-1.45zM427.90,206.51h1.45v1.45h-1.45zM438.62,206.51h1.45v1.45h-1.45zM449.34,206.51h1.45v1.45h-1.45zM460.06,206.51h1.45v1.45h-1.45zM470.78,206.51h1.45v1.45h-1.45zM481.50,206.51h1.45v1.45h-1.45zM492.22,206.51h1.45v1.45h-1.45zM502.94,206.51h1.45v1.45h-1.45zM513.66,206.51h1.45v1.45h-1.45zM524.38,206.51h1.45v1.45h-1.45zM535.10,206.51h1.45v1.45h-1.45zM545.82,206.51h1.45v1.45h-1.45zM556.54,206.51h1.45v1.45h-1.45zM106.30,201.74h1.45v1.45h-1.45zM117.02,201.74h1.45v1.45h-1.45zM127.74,201.74h1.45v1.45h-1.45zM138.46,201.74h1.45v1.45h-1.45zM149.18,201.74h1.45v1.45h-1.45zM159.90,201.74h1.45v1.45h-1.45zM170.62,201.74h1.45v1.45h-1.45zM181.34,201.74h1.45v1.45h-1.45zM192.06,201.74h1.45v1.45h-1.45zM202.78,201.74h1.45v1.45h-1.45zM213.50,201.74h1.45v1.45h-1.45zM224.22,201.74h1.45v1.45h-1.45zM234.94,201.74h1.45v1.45h-1.45zM245.66,201.74h1.45v1.45h-1.45zM256.38,201.74h1.45v1.45h-1.45zM267.10,201.74h1.45v1.45h-1.45zM277.82,201.74h1.45v1.45h-1.45zM288.54,201.74h1.45v1.45h-1.45zM299.26,201.74h1.45v1.45h-1.45zM309.98,201.74h1.45v1.45h-1.45zM320.70,201.74h1.45v1.45h-1.45zM331.42,201.74h1.45v1.45h-1.45zM342.14,201.74h1.45v1.45h-1.45zM352.86,201.74h1.45v1.45h-1.45zM363.58,201.74h1.45v1.45h-1.45zM374.30,201.74h1.45v1.45h-1.45zM385.02,201.74h1.45v1.45h-1.45zM395.74,201.74h1.45v1.45h-1.45zM406.46,201.74h1.45v1.45h-1.45zM417.18,201.74h1.45v1.45h-1.45zM427.90,201.74h1.45v1.45h-1.45zM438.62,201.74h1.45v1.45h-1.45zM449.34,201.74h1.45v1.45h-1.45zM460.06,201.74h1.45v1.45h-1.45zM470.78,201.74h1.45v1.45h-1.45zM481.50,201.74h1.45v1.45h-1.45zM492.22,201.74h1.45v1.45h-1.45zM502.94,201.74h1.45v1.45h-1.45zM513.66,201.74h1.45v1.45h-1.45zM524.38,201.74h1.45v1.45h-1.45zM535.10,201.74h1.45v1.45h-1.45zM545.82,201.74h1.45v1.45h-1.45zM556.54,201.74h1.45v1.45h-1.45zM106.30,197.54h1.45v1.45h-1.45zM117.02,197.54h1.45v1.45h-1.45zM127.74,197.54h1.45v1.45h-1.45zM138.46,197.54h1.45v1.45h-1.45zM149.18,197.54h1.45v1.45h-1.45zM159.90,197.54h1.45v1.45h-1.45zM170.62,197.54h1.45v1.45h-1.45zM181.34,197.54h1.45v1.45h-1.45zM192.06,197.54h1.45v1.45h-1.45zM202.78,197.54h1.45v1.45h-1.45zM213.50,197.54h1.45v1.45h-1.45zM224.22,197.54h1.45v1.45h-1.45zM234.94,197.54h1.45v1.45h-1.45zM245.66,197.54h1.45v1.45h-1.45zM256.38,197.54h1.45v1.45h-1.45zM267.10,197.54h1.45v1.45h-1.45zM277.82,197.54h1.45v1.45h-1.45zM288.54,197.54h1.45v1.45h-1.45zM299.26,197.54h1.45v1.45h-1.45zM309.98,197.54h1.45v1.45h-1.45zM320.70,197.54h1.45v1.45h-1.45zM331.42,197.54h1.45v1.45h-1.45zM342.14,197.54h1.45v1.45h-1.45zM352.86,197.54h1.45v1.45h-1.45zM363.58,197.54h1.45v1.45h-1.45zM374.30,197.54h1.45v1.45h-1.45zM385.02,197.54h1.45v1.45h-1.45zM395.74,197.54h1.45v1.45h-1.45zM406.46,197.54h1.45v1.45h-1.45zM417.18,197.54h1.45v1.45h-1.45zM427.90,197.54h1.45v1.45h-1.45zM438.62,197.54h1.45v1.45h-1.45zM449.34,197.54h1.45v1.45h-1.45zM460.06,197.54h1.45v1.45h-1.45zM470.78,197.54h1.45v1.45h-1.45zM481.50,197.54h1.45v1.45h-1.45zM492.22,197.54h1.45v1.45h-1.45zM502.94,197.54h1.45v1.45h-1.45zM513.66,197.54h1.45v1.45h-1.45zM524.38,197.54h1.45v1.45h-1.45zM535.10,197.54h1.45v1.45h-1.45zM545.82,197.54h1.45v1.45h-1.45zM556.54,197.54h1.45v1.45h-1.45zM106.30,358.27h1.45v1.45h-1.45zM117.02,358.27h1.45v1.45h-1.45zM127.74,358.27h1.45v1.45h-1.45zM138.46,358.27h1.45v1.45h-1.45zM149.18,358.27h1.45v1.45h-1.45zM159.90,358.27h1.45v1.45h-1.45zM170.62,358.27h1.45v1.45h-1.45zM181.34,358.27h1.45v1.45h-1.45zM192.06,358.27h1.45v1.45h-1.45zM202.78,358.27h1.45v1.45h-1.45zM213.50,358.27h1.45v1.45h-1.45zM224.22,358.27h1.45v1.45h-1.45zM234.94,358.27h1.45v1.45h-1.45zM245.66,358.27h1.45v1.45h-1.45zM256.38,358.27h1.45v1.45h-1.45zM267.10,358.27h1.45v1.45h-1.45zM277.82,358.27h1.45v1.45h-1.45zM288.54,358.27h1.45v1.45h-1.45zM299.26,358.27h1.45v1.45h-1.45zM309.98,358.27h1.45v1.45h-1.45zM320.70,358.27h1.45v1.45h-1.45zM331.42,358.27h1.45v1.45h-1.45zM342.14,358.27h1.45v1.45h-1.45zM352.86,358.27h1.45v1.45h-1.45zM363.58,358.27h1.45v1.45h-1.45zM374.30,358.27h1.45v1.45h-1.45zM385.02,358.27h1.45v1.45h-1.45zM395.74,358.27h1.45v1.45h-1.45zM406.46,358.27h1.45v1.45h-1.45zM417.18,358.27h1.45v1.45h-1.45zM427.90,358.27h1.45v1.45h-1.45zM438.62,358.27h1.45v1.45h-1.45zM449.34,358.27h1.45v1.45h-1.45zM460.06,358.27h1.45v1.45h-1.45zM470.78,358.27h1.45v1.45h-1.45zM481.50,358.27h1.45v1.45h-1.45zM492.22,358.27h1.45v1.45h-1.45zM502.94,358.27h1.45v1.45h-1.45zM513.66,358.27h1.45v1.45h-1.45zM524.38,358.27h1.45v1.45h-1.45zM535.10,358.27h1.45v1.45h-1.45zM545.82,358.27h1.45v1.45h-1.45zM556.54,358.27h1.45v1.45h-1.45zM106.30,333.51h1.45v1.45h-1.45zM117.02,333.51h1.45v1.45h-1.45zM127.74,333.51h1.45v1.45h-1.45zM138.46,333.51h1.45v1.45h-1.45zM149.18,333.51h1.45v1.45h-1.45zM159.90,333.51h1.45v1.45h-1.45zM170.62,333.51h1.45v1.45h-1.45zM181.34,333.51h1.45v1.45h-1.45zM192.06,333.51h1.45v1.45h-1.45zM202.78,333.51h1.45v1.45h-1.45zM213.50,333.51h1.45v1.45h-1.45zM224.22,333.51h1.45v1.45h-1.45zM234.94,333.51h1.45v1.45h-1.45zM245.66,333.51h1.45v1.45h-1.45zM256.38,333.51h1.45v1.45h-1.45zM267.10,333.51h1.45v1.45h-1.45zM277.82,333.51h1.45v1.45h-1.45zM288.54,333.51h1.45v1.45h-1.45zM299.26,333.51h1.45v1.45h-1.45zM309.98,333.51h1.45v1.45h-1.45zM320.70,333.51h1.45v1.45h-1.45zM331.42,333.51h1.45v1.45h-1.45zM342.14,333.51h1.45v1.45h-1.45zM352.86,333.51h1.45v1.45h-1.45zM363.58,333.51h1.45v1.45h-1.45zM374.30,333.51h1.45v1.45h-1.45zM385.02,333.51h1.45v1.45h-1.45zM395.74,333.51h1.45v1.45h-1.45zM406.46,333.51h1.45v1.45h-1.45zM417.18,333.51h1.45v1.45h-1.45zM427.90,333.51h1.45v1.45h-1.45zM438.62,333.51h1.45v1.45h-1.45zM449.34,333.51h1.45v1.45h-1.45zM460.06,333.51h1.45v1.45h-1.45zM470.78,333.51h1.45v1.45h-1.45zM481.50,333.51h1.45v1.45h-1.45zM492.22,333.51h1.45v1.45h-1.45zM502.94,333.51h1.45v1.45h-1.45zM513.66,333.51h1.45v1.45h-1.45zM524.38,333.51h1.45v1.45h-1.45zM535.10,333.51h1.45v1.45h-1.45zM545.82,333.51h1.45v1.45h-1.45zM556.54,333.51h1.45v1.45h-1.45zM106.30,319.03h1.45v1.45h-1.45zM117.02,319.03h1.45v1.45h-1.45zM127.74,319.03h1.45v1.45h-1.45zM138.46,319.03h1.45v1.45h-1.45zM149.18,319.03h1.45v1.45h-1.45zM159.90,319.03h1.45v1.45h-1.45zM170.62,319.03h1.45v1.45h-1.45zM181.34,319.03h1.45v1.45h-1.45zM192.06,319.03h1.45v1.45h-1.45zM202.78,319.03h1.45v1.45h-1.45zM213.50,319.03h1.45v1.45h-1.45zM224.22,319.03h1.45v1.45h-1.45zM234.94,319.03h1.45v1.45h-1.45zM245.66,319.03h1.45v1.45h-1.45zM256.38,319.03h1.45v1.45h-1.45zM267.10,319.03h1.45v1.45h-1.45zM277.82,319.03h1.45v1.45h-1.45zM288.54,319.03h1.45v1.45h-1.45zM299.26,319.03h1.45v1.45h-1.45zM309.98,319.03h1.45v1.45h-1.45zM320.70,319.03h1.45v1.45h-1.45zM331.42,319.03h1.45v1.45h-1.45zM342.14,319.03h1.45v1.45h-1.45zM352.86,319.03h1.45v1.45h-1.45zM363.58,319.03h1.45v1.45h-1.45zM374.30,319.03h1.45v1.45h-1.45zM385.02,319.03h1.45v1.45h-1.45zM395.74,319.03h1.45v1.45h-1.45zM406.46,319.03h1.45v1.45h-1.45zM417.18,319.03h1.45v1.45h-1.45zM427.90,319.03h1.45v1.45h-1.45zM438.62,319.03h1.45v1.45h-1.45zM449.34,319.03h1.45v1.45h-1.45zM460.06,319.03h1.45v1.45h-1.45zM470.78,319.03h1.45v1.45h-1.45zM481.50,319.03h1.45v1.45h-1.45zM492.22,319.03h1.45v1.45h-1.45zM502.94,319.03h1.45v1.45h-1.45zM513.66,319.03h1.45v1.45h-1.45zM524.38,319.03h1.45v1.45h-1.45zM535.10,319.03h1.45v1.45h-1.45zM545.82,319.03h1.45v1.45h-1.45zM556.54,319.03h1.45v1.45h-1.45zM106.30,308.75h1.45v1.45h-1.45zM117.02,308.75h1.45v1.45h-1.45zM127.74,308.75h1.45v1.45h-1.45zM138.46,308.75h1.45v1.45h-1.45zM149.18,308.75h1.45v1.45h-1.45zM159.90,308.75h1.45v1.45h-1.45zM170.62,308.75h1.45v1.45h-1.45zM181.34,308.75h1.45v1.45h-1.45zM192.06,308.75h1.45v1.45h-1.45zM202.78,308.75h1.45v1.45h-1.45zM213.50,308.75h1.45v1.45h-1.45zM224.22,308.75h1.45v1.45h-1.45zM234.94,308.75h1.45v1.45h-1.45zM245.66,308.75h1.45v1.45h-1.45zM256.38,308.75h1.45v1.45h-1.45zM267.10,308.75h1.45v1.45h-1.45zM277.82,308.75h1.45v1.45h-1.45zM288.54,308.75h1.45v1.45h-1.45zM299.26,308.75h1.45v1.45h-1.45zM309.98,308.75h1.45v1.45h-1.45zM320.70,308.75h1.45v1.45h-1.45zM331.42,308.75h1.45v1.45h-1.45zM342.14,308.75h1.45v1.45h-1.45zM352.86,308.75h1.45v1.45h-1.45zM363.58,308.75h1.45v1.45h-1.45zM374.30,308.75h1.45v1.45h-1.45zM385.02,308.75h1.45v1.45h-1.45zM395.74,308.75h1.45v1.45h-1.45zM406.46,308.75h1.45v1.45h-1.45zM417.18,308.75h1.45v1.45h-1.45zM427.90,308.75h1.45v1.45h-1.45zM438.62,308.75h1.45v1.45h-1.45zM449.34,308.75h1.45v1.45h-1.45zM460.06,308.75h1.45v1.45h-1.45zM470.78,308.75h1.45v1.45h-1.45zM481.50,308.75h1.45v1.45h-1.45zM492.22,308.75h1.45v1.45h-1.45zM502.94,308.75h1.45v1.45h-1.45zM513.66,308.75h1.45v1.45h-1.45zM524.38,308.75h1.45v1.45h-1.45zM535.10,308.75h1.45v1.45h-1.45zM545.82,308.75h1.45v1.45h-1.45zM556.54,308.75h1.45v1.45h-1.45zM106.30,300.78h1.45v1.45h-1.45zM117.02,300.78h1.45v1.45h-1.45zM127.74,300.78h1.45v1.45h-1.45zM138.46,300.78h1.45v1.45h-1.45zM149.18,300.78h1.45v1.45h-1.45zM159.90,300.78h1.45v1.45h-1.45zM170.62,300.78h1.45v1.45h-1.45zM181.34,300.78h1.45v1.45h-1.45zM192.06,300.78h1.45v1.45h-1.45zM202.78,300.78h1.45v1.45h-1.45zM213.50,300.78h1.45v1.45h-1.45zM224.22,300.78h1.45v1.45h-1.45zM234.94,300.78h1.45v1.45h-1.45zM245.66,300.78h1.45v1.45h-1.45zM256.38,300.78h1.45v1.45h-1.45zM267.10,300.78h1.45v1.45h-1.45zM277.82,300.78h1.45v1.45h-1.45zM288.54,300.78h1.45v1.45h-1.45zM299.26,300.78h1.45v1.45h-1.45zM309.98,300.78h1.45v1.45h-1.45zM320.70,300.78h1.45v1.45h-1.45zM331.42,300.78h1.45v1.45h-1.45zM342.14,300.78h1.45v1.45h-1.45zM352.86,300.78h1.45v1.45h-1.45zM363.58,300.78h1.45v1.45h-1.45zM374.30,300.78h1.45v1.45h-1.45zM385.02,300.78h1.45v1.45h-1.45zM395.74,300.78h1.45v1.45h-1.45zM406.46,300.78h1.45v1.45h-1.45zM417.18,300.78h1.45v1.45h-1.45zM427.90,300.78h1.45v1.45h-1.45zM438.62,300.78h1.45v1.45h-1.45zM449.34,300.78h1.45v1.45h-1.45zM460.06,300.78h1.45v1.45h-1.45zM470.78,300.78h1.45v1.45h-1.45zM481.50,300.78h1.45v1.45h-1.45zM492.22,300.78h1.45v1.45h-1.45zM502.94,300.78h1.45v1.45h-1.45zM513.66,300.78h1.45v1.45h-1.45zM524.38,300.78h1.45v1.45h-1.45zM535.10,300.78h1.45v1.45h-1.45zM545.82,300.78h1.45v1.45h-1.45zM556.54,300.78h1.45v1.45h-1.45zM106.30,294.27h1.45v1.45h-1.45zM117.02,294.27h1.45v1.45h-1.45zM127.74,294.27h1.45v1.45h-1.45zM138.46,294.27h1.45v1.45h-1.45zM149.18,294.27h1.45v1.45h-1.45zM159.90,294.27h1.45v1.45h-1.45zM170.62,294.27h1.45v1.45h-1.45zM181.34,294.27h1.45v1.45h-1.45zM192.06,294.27h1.45v1.45h-1.45zM202.78,294.27h1.45v1.45h-1.45zM213.50,294.27h1.45v1.45h-1.45zM224.22,294.27h1.45v1.45h-1.45zM234.94,294.27h1.45v1.45h-1.45zM245.66,294.27h1.45v1.45h-1.45zM256.38,294.27h1.45v1.45h-1.45zM267.10,294.27h1.45v1.45h-1.45zM277.82,294.27h1.45v1.45h-1.45zM288.54,294.27h1.45v1.45h-1.45zM299.26,294.27h1.45v1.45h-1.45zM309.98,294.27h1.45v1.45h-1.45zM320.70,294.27h1.45v1.45h-1.45zM331.42,294.27h1.45v1.45h-1.45zM342.14,294.27h1.45v1.45h-1.45zM352.86,294.27h1.45v1.45h-1.45zM363.58,294.27h1.45v1.45h-1.45zM374.30,294.27h1.45v1.45h-1.45zM385.02,294.27h1.45v1.45h-1.45zM395.74,294.27h1.45v1.45h-1.45zM406.46,294.27h1.45v1.45h-1.45zM417.18,294.27h1.45v1.45h-1.45zM427.90,294.27h1.45v1.45h-1.45zM438.62,294.27h1.45v1.45h-1.45zM449.34,294.27h1.45v1.45h-1.45zM460.06,294.27h1.45v1.45h-1.45zM470.78,294.27h1.45v1.45h-1.45zM481.50,294.27h1.45v1.45h-1.45zM492.22,294.27h1.45v1.45h-1.45zM502.94,294.27h1.45v1.45h-1.45zM513.66,294.27h1.45v1.45h-1.45zM524.38,294.27h1.45v1.45h-1.45zM535.10,294.27h1.45v1.45h-1.45zM545.82,294.27h1.45v1.45h-1.45zM556.54,294.27h1.45v1.45h-1.45zM106.30,288.76h1.45v1.45h-1.45zM117.02,288.76h1.45v1.45h-1.45zM127.74,288.76h1.45v1.45h-1.45zM138.46,288.76h1.45v1.45h-1.45zM149.18,288.76h1.45v1.45h-1.45zM159.90,288.76h1.45v1.45h-1.45zM170.62,288.76h1.45v1.45h-1.45zM181.34,288.76h1.45v1.45h-1.45zM192.06,288.76h1.45v1.45h-1.45zM202.78,288.76h1.45v1.45h-1.45zM213.50,288.76h1.45v1.45h-1.45zM224.22,288.76h1.45v1.45h-1.45zM234.94,288.76h1.45v1.45h-1.45zM245.66,288.76h1.45v1.45h-1.45zM256.38,288.76h1.45v1.45h-1.45zM267.10,288.76h1.45v1.45h-1.45zM277.82,288.76h1.45v1.45h-1.45zM288.54,288.76h1.45v1.45h-1.45zM299.26,288.76h1.45v1.45h-1.45zM309.98,288.76h1.45v1.45h-1.45zM320.70,288.76h1.45v1.45h-1.45zM331.42,288.76h1.45v1.45h-1.45zM342.14,288.76h1.45v1.45h-1.45zM352.86,288.76h1.45v1.45h-1.45zM363.58,288.76h1.45v1.45h-1.45zM374.30,288.76h1.45v1.45h-1.45zM385.02,288.76h1.45v1.45h-1.45zM395.74,288.76h1.45v1.45h-1.45zM406.46,288.76h1.45v1.45h-1.45zM417.18,288.76h1.45v1.45h-1.45zM427.90,288.76h1.45v1.45h-1.45zM438.62,288.76h1.45v1.45h-1.45zM449.34,288.76h1.45v1.45h-1.45zM460.06,288.76h1.45v1.45h-1.45zM470.78,288.76h1.45v1.45h-1.45zM481.50,288.76h1.45v1.45h-1.45zM492.22,288.76h1.45v1.45h-1.45zM502.94,288.76h1.45v1.45h-1.45zM513.66,288.76h1.45v1.45h-1.45zM524.38,288.76h1.45v1.45h-1.45zM535.10,288.76h1.45v1.45h-1.45zM545.82,288.76h1.45v1.45h-1.45zM556.54,288.76h1.45v1.45h-1.45zM106.30,283.99h1.45v1.45h-1.45zM117.02,283.99h1.45v1.45h-1.45zM127.74,283.99h1.45v1.45h-1.45zM138.46,283.99h1.45v1.45h-1.45zM149.18,283.99h1.45v1.45h-1.45zM159.90,283.99h1.45v1.45h-1.45zM170.62,283.99h1.45v1.45h-1.45zM181.34,283.99h1.45v1.45h-1.45zM192.06,283.99h1.45v1.45h-1.45zM202.78,283.99h1.45v1.45h-1.45zM213.50,283.99h1.45v1.45h-1.45zM224.22,283.99h1.45v1.45h-1.45zM234.94,283.99h1.45v1.45h-1.45zM245.66,283.99h1.45v1.45h-1.45zM256.38,283.99h1.45v1.45h-1.45zM267.10,283.99h1.45v1.45h-1.45zM277.82,283.99h1.45v1.45h-1.45zM288.54,283.99h1.45v1.45h-1.45zM299.26,283.99h1.45v1.45h-1.45zM309.98,283.99h1.45v1.45h-1.45zM320.70,283.99h1.45v1.45h-1.45zM331.42,283.99h1.45v1.45h-1.45zM342.14,283.99h1.45v1.45h-1.45zM352.86,283.99h1.45v1.45h-1.45zM363.58,283.99h1.45v1.45h-1.45zM374.30,283.99h1.45v1.45h-1.45zM385.02,283.99h1.45v1.45h-1.45zM395.74,283.99h1.45v1.45h-1.45zM406.46,283.99h1.45v1.45h-1.45zM417.18,283.99h1.45v1.45h-1.45zM427.90,283.99h1.45v1.45h-1.45zM438.62,283.99h1.45v1.45h-1.45zM449.34,283.99h1.45v1.45h-1.45zM460.06,283.99h1.45v1.45h-1.45zM470.78,283.99h1.45v1.45h-1.45zM481.50,283.99h1.45v1.45h-1.45zM492.22,283.99h1.45v1.45h-1.45zM502.94,283.99h1.45v1.45h-1.45zM513.66,283.99h1.45v1.45h-1.45zM524.38,283.99h1.45v1.45h-1.45zM535.10,283.99h1.45v1.45h-1.45zM545.82,283.99h1.45v1.45h-1.45zM556.54,283.99h1.45v1.45h-1.45zM106.30,279.78h1.45v1.45h-1.45zM117.02,279.78h1.45v1.45h-1.45zM127.74,279.78h1.45v1.45h-1.45zM138.46,279.78h1.45v1.45h-1.45zM149.18,279.78h1.45v1.45h-1.45zM159.90,279.78h1.45v1.45h-1.45zM170.62,279.78h1.45v1.45h-1.45zM181.34,279.78h1.45v1.45h-1.45zM192.06,279.78h1.45v1.45h-1.45zM202.78,279.78h1.45v1.45h-1.45zM213.50,279.78h1.45v1.45h-1.45zM224.22,279.78h1.45v1.45h-1.45zM234.94,279.78h1.45v1.45h-1.45zM245.66,279.78h1.45v1.45h-1.45zM256.38,279.78h1.45v1.45h-1.45zM267.10,279.78h1.45v1.45h-1.45zM277.82,279.78h1.45v1.45h-1.45zM288.54,279.78h1.45v1.45h-1.45zM299.26,279.78h1.45v1.45h-1.45zM309.98,279.78h1.45v1.45h-1.45zM320.70,279.78h1.45v1.45h-1.45zM331.42,279.78h1.45v1.45h-1.45zM342.14,279.78h1.45v1.45h-1.45zM352.86,279.78h1.45v1.45h-1.45zM363.58,279.78h1.45v1.45h-1.45zM374.30,279.78h1.45v1.45h-1.45zM385.02,279.78h1.45v1.45h-1.45zM395.74,279.78h1.45v1.45h-1.45zM406.46,279.78h1.45v1.45h-1.45zM417.18,279.78h1.45v1.45h-1.45zM427.90,279.78h1.45v1.45h-1.45zM438.62,279.78h1.45v1.45h-1.45zM449.34,279.78h1.45v1.45h-1.45zM460.06,279.78h1.45v1.45h-1.45zM470.78,279.78h1.45v1.45h-1.45zM481.50,279.78h1.45v1.45h-1.45zM492.22,279.78h1.45v1.45h-1.45zM502.94,279.78h1.45v1.45h-1.45zM513.66,279.78h1.45v1.45h-1.45zM524.38,279.78h1.45v1.45h-1.45zM535.10,279.78h1.45v1.45h-1.45zM545.82,279.78h1.45v1.45h-1.45zM556.54,279.78h1.45v1.45h-1.45zM106.30,391.00h1.45v1.45h-1.45zM117.02,391.00h1.45v1.45h-1.45zM127.74,391.00h1.45v1.45h-1.45zM138.46,391.00h1.45v1.45h-1.45zM149.18,391.00h1.45v1.45h-1.45zM159.90,391.00h1.45v1.45h-1.45zM170.62,391.00h1.45v1.45h-1.45zM181.34,391.00h1.45v1.45h-1.45zM192.06,391.00h1.45v1.45h-1.45zM202.78,391.00h1.45v1.45h-1.45zM213.50,391.00h1.45v1.45h-1.45zM224.22,391.00h1.45v1.45h-1.45zM234.94,391.00h1.45v1.45h-1.45zM245.66,391.00h1.45v1.45h-1.45zM256.38,391.00h1.45v1.45h-1.45zM267.10,391.00h1.45v1.45h-1.45zM277.82,391.00h1.45v1.45h-1.45zM288.54,391.00h1.45v1.45h-1.45zM299.26,391.00h1.45v1.45h-1.45zM309.98,391.00h1.45v1.45h-1.45zM320.70,391.00h1.45v1.45h-1.45zM331.42,391.00h1.45v1.45h-1.45zM342.14,391.00h1.45v1.45h-1.45zM352.86,391.00h1.45v1.45h-1.45zM363.58,391.00h1.45v1.45h-1.45zM374.30,391.00h1.45v1.45h-1.45zM385.02,391.00h1.45v1.45h-1.45zM395.74,391.00h1.45v1.45h-1.45zM406.46,391.00h1.45v1.45h-1.45zM417.18,391.00h1.45v1.45h-1.45zM427.90,391.00h1.45v1.45h-1.45zM438.62,391.00h1.45v1.45h-1.45zM449.34,391.00h1.45v1.45h-1.45zM460.06,391.00h1.45v1.45h-1.45zM470.78,391.00h1.45v1.45h-1.45zM481.50,391.00h1.45v1.45h-1.45zM492.22,391.00h1.45v1.45h-1.45zM502.94,391.00h1.45v1.45h-1.45zM513.66,391.00h1.45v1.45h-1.45zM524.38,391.00h1.45v1.45h-1.45zM535.10,391.00h1.45v1.45h-1.45zM545.82,391.00h1.45v1.45h-1.45zM556.54,391.00h1.45v1.45h-1.45zM106.30,383.03h1.45v1.45h-1.45zM117.02,383.03h1.45v1.45h-1.45zM127.74,383.03h1.45v1.45h-1.45zM138.46,383.03h1.45v1.45h-1.45zM149.18,383.03h1.45v1.45h-1.45zM159.90,383.03h1.45v1.45h-1.45zM170.62,383.03h1.45v1.45h-1.45zM181.34,383.03h1.45v1.45h-1.45zM192.06,383.03h1.45v1.45h-1.45zM202.78,383.03h1.45v1.45h-1.45zM213.50,383.03h1.45v1.45h-1.45zM224.22,383.03h1.45v1.45h-1.45zM234.94,383.03h1.45v1.45h-1.45zM245.66,383.03h1.45v1.45h-1.45zM256.38,383.03h1.45v1.45h-1.45zM267.10,383.03h1.45v1.45h-1.45zM277.82,383.03h1.45v1.45h-1.45zM288.54,383.03h1.45v1.45h-1.45zM299.26,383.03h1.45v1.45h-1.45zM309.98,383.03h1.45v1.45h-1.45zM320.70,383.03h1.45v1.45h-1.45zM331.42,383.03h1.45v1.45h-1.45zM342.14,383.03h1.45v1.45h-1.45zM352.86,383.03h1.45v1.45h-1.45zM363.58,383.03h1.45v1.45h-1.45zM374.30,383.03h1.45v1.45h-1.45zM385.02,383.03h1.45v1.45h-1.45zM395.74,383.03h1.45v1.45h-1.45zM406.46,383.03h1.45v1.45h-1.45zM417.18,383.03h1.45v1.45h-1.45zM427.90,383.03h1.45v1.45h-1.45zM438.62,383.03h1.45v1.45h-1.45zM449.34,383.03h1.45v1.45h-1.45zM460.06,383.03h1.45v1.45h-1.45zM470.78,383.03h1.45v1.45h-1.45zM481.50,383.03h1.45v1.45h-1.45zM492.22,383.03h1.45v1.45h-1.45zM502.94,383.03h1.45v1.45h-1.45zM513.66,383.03h1.45v1.45h-1.45zM524.38,383.03h1.45v1.45h-1.45zM535.10,383.03h1.45v1.45h-1.45zM545.82,383.03h1.45v1.45h-1.45zM556.54,383.03h1.45v1.45h-1.45zM106.30,376.52h1.45v1.45h-1.45zM117.02,376.52h1.45v1.45h-1.45zM127.74,376.52h1.45v1.45h-1.45zM138.46,376.52h1.45v1.45h-1.45zM149.18,376.52h1.45v1.45h-1.45zM159.90,376.52h1.45v1.45h-1.45zM170.62,376.52h1.45v1.45h-1.45zM181.34,376.52h1.45v1.45h-1.45zM192.06,376.52h1.45v1.45h-1.45zM202.78,376.52h1.45v1.45h-1.45zM213.50,376.52h1.45v1.45h-1.45zM224.22,376.52h1.45v1.45h-1.45zM234.94,376.52h1.45v1.45h-1.45zM245.66,376.52h1.45v1.45h-1.45zM256.38,376.52h1.45v1.45h-1.45zM267.10,376.52h1.45v1.45h-1.45zM277.82,376.52h1.45v1.45h-1.45zM288.54,376.52h1.45v1.45h-1.45zM299.26,376.52h1.45v1.45h-1.45zM309.98,376.52h1.45v1.45h-1.45zM320.70,376.52h1.45v1.45h-1.45zM331.42,376.52h1.45v1.45h-1.45zM342.14,376.52h1.45v1.45h-1.45zM352.86,376.52h1.45v1.45h-1.45zM363.58,376.52h1.45v1.45h-1.45zM374.30,376.52h1.45v1.45h-1.45zM385.02,376.52h1.45v1.45h-1.45zM395.74,376.52h1.45v1.45h-1.45zM406.46,376.52h1.45v1.45h-1.45zM417.18,376.52h1.45v1.45h-1.45zM427.90,376.52h1.45v1.45h-1.45zM438.62,376.52h1.45v1.45h-1.45zM449.34,376.52h1.45v1.45h-1.45zM460.06,376.52h1.45v1.45h-1.45zM470.78,376.52h1.45v1.45h-1.45zM481.50,376.52h1.45v1.45h-1.45zM492.22,376.52h1.45v1.45h-1.45zM502.94,376.52h1.45v1.45h-1.45zM513.66,376.52h1.45v1.45h-1.45zM524.38,376.52h1.45v1.45h-1.45zM535.10,376.52h1.45v1.45h-1.45zM545.82,376.52h1.45v1.45h-1.45zM556.54,376.52h1.45v1.45h-1.45zM106.30,371.01h1.45v1.45h-1.45zM117.02,371.01h1.45v1.45h-1.45zM127.74,371.01h1.45v1.45h-1.45zM138.46,371.01h1.45v1.45h-1.45zM149.18,371.01h1.45v1.45h-1.45zM159.90,371.01h1.45v1.45h-1.45zM170.62,371.01h1.45v1.45h-1.45zM181.34,371.01h1.45v1.45h-1.45zM192.06,371.01h1.45v1.45h-1.45zM202.78,371.01h1.45v1.45h-1.45zM213.50,371.01h1.45v1.45h-1.45zM224.22,371.01h1.45v1.45h-1.45zM234.94,371.01h1.45v1.45h-1.45zM245.66,371.01h1.45v1.45h-1.45zM256.38,371.01h1.45v1.45h-1.45zM267.10,371.01h1.45v1.45h-1.45zM277.82,371.01h1.45v1.45h-1.45zM288.54,371.01h1.45v1.45h-1.45zM299.26,371.01h1.45v1.45h-1.45zM309.98,371.01h1.45v1.45h-1.45zM320.70,371.01h1.45v1.45h-1.45zM331.42,371.01h1.45v1.45h-1.45zM342.14,371.01h1.45v1.45h-1.45zM352.86,371.01h1.45v1.45h-1.45zM363.58,371.01h1.45v1.45h-1.45zM374.30,371.01h1.45v1.45h-1.45zM385.02,371.01h1.45v1.45h-1.45zM395.74,371.01h1.45v1.45h-1.45zM406.46,371.01h1.45v1.45h-1.45zM417.18,371.01h1.45v1.45h-1.45zM427.90,371.01h1.45v1.45h-1.45zM438.62,371.01h1.45v1.45h-1.45zM449.34,371.01h1.45v1.45h-1.45zM460.06,371.01h1.45v1.45h-1.45zM470.78,371.01h1.45v1.45h-1.45zM481.50,371.01h1.45v1.45h-1.45zM492.22,371.01h1.45v1.45h-1.45zM502.94,371.01h1.45v1.45h-1.45zM513.66,371.01h1.45v1.45h-1.45zM524.38,371.01h1.45v1.45h-1.45zM535.10,371.01h1.45v1.45h-1.45zM545.82,371.01h1.45v1.45h-1.45zM556.54,371.01h1.45v1.45h-1.45zM106.30,366.24h1.45v1.45h-1.45zM117.02,366.24h1.45v1.45h-1.45zM127.74,366.24h1.45v1.45h-1.45zM138.46,366.24h1.45v1.45h-1.45zM149.18,366.24h1.45v1.45h-1.45zM159.90,366.24h1.45v1.45h-1.45zM170.62,366.24h1.45v1.45h-1.45zM181.34,366.24h1.45v1.45h-1.45zM192.06,366.24h1.45v1.45h-1.45zM202.78,366.24h1.45v1.45h-1.45zM213.50,366.24h1.45v1.45h-1.45zM224.22,366.24h1.45v1.45h-1.45zM234.94,366.24h1.45v1.45h-1.45zM245.66,366.24h1.45v1.45h-1.45zM256.38,366.24h1.45v1.45h-1.45zM267.10,366.24h1.45v1.45h-1.45zM277.82,366.24h1.45v1.45h-1.45zM288.54,366.24h1.45v1.45h-1.45zM299.26,366.24h1.45v1.45h-1.45zM309.98,366.24h1.45v1.45h-1.45zM320.70,366.24h1.45v1.45h-1.45zM331.42,366.24h1.45v1.45h-1.45zM342.14,366.24h1.45v1.45h-1.45zM352.86,366.24h1.45v1.45h-1.45zM363.58,366.24h1.45v1.45h-1.45zM374.30,366.24h1.45v1.45h-1.45zM385.02,366.24h1.45v1.45h-1.45zM395.74,366.24h1.45v1.45h-1.45zM406.46,366.24h1.45v1.45h-1.45zM417.18,366.24h1.45v1.45h-1.45zM427.90,366.24h1.45v1.45h-1.45zM438.62,366.24h1.45v1.45h-1.45zM449.34,366.24h1.45v1.45h-1.45zM460.06,366.24h1.45v1.45h-1.45zM470.78,366.24h1.45v1.45h-1.45zM481.50,366.24h1.45v1.45h-1.45zM492.22,366.24h1.45v1.45h-1.45zM502.94,366.24h1.45v1.45h-1.45zM513.66,366.24h1.45v1.45h-1.45zM524.38,366.24h1.45v1.45h-1.45zM535.10,366.24h1.45v1.45h-1.45zM545.82,366.24h1.45v1.45h-1.45zM556.54,366.24h1.45v1.45h-1.45zM106.30,362.03h1.45v1.45h-1.45zM117.02,362.03h1.45v1.45h-1.45zM127.74,362.03h1.45v1.45h-1.45zM138.46,362.03h1.45v1.45h-1.45zM149.18,362.03h1.45v1.45h-1.45zM159.90,362.03h1.45v1.45h-1.45zM170.62,362.03h1.45v1.45h-1.45zM181.34,362.03h1.45v1.45h-1.45zM192.06,362.03h1.45v1.45h-1.45zM202.78,362.03h1.45v1.45h-1.45zM213.50,362.03h1.45v1.45h-1.45zM224.22,362.03h1.45v1.45h-1.45zM234.94,362.03h1.45v1.45h-1.45zM245.66,362.03h1.45v1.45h-1.45zM256.38,362.03h1.45v1.45h-1.45zM267.10,362.03h1.45v1.45h-1.45zM277.82,362.03h1.45v1.45h-1.45zM288.54,362.03h1.45v1.45h-1.45zM299.26,362.03h1.45v1.45h-1.45zM309.98,362.03h1.45v1.45h-1.45zM320.70,362.03h1.45v1.45h-1.45zM331.42,362.03h1.45v1.45h-1.45zM342.14,362.03h1.45v1.45h-1.45zM352.86,362.03h1.45v1.45h-1.45zM363.58,362.03h1.45v1.45h-1.45zM374.30,362.03h1.45v1.45h-1.45zM385.02,362.03h1.45v1.45h-1.45zM395.74,362.03h1.45v1.45h-1.45zM406.46,362.03h1.45v1.45h-1.45zM417.18,362.03h1.45v1.45h-1.45zM427.90,362.03h1.45v1.45h-1.45zM438.62,362.03h1.45v1.45h-1.45zM449.34,362.03h1.45v1.45h-1.45zM460.06,362.03h1.45v1.45h-1.45zM470.78,362.03h1.45v1.45h-1.45zM481.50,362.03h1.45v1.45h-1.45zM492.22,362.03h1.45v1.45h-1.45zM502.94,362.03h1.45v1.45h-1.45zM513.66,362.03h1.45v1.45h-1.45zM524.38,362.03h1.45v1.45h-1.45zM535.10,362.03h1.45v1.45h-1.45zM545.82,362.03h1.45v1.45h-1.45zM556.54,362.03h1.45v1.45h-1.45zM162.57,390.55h1.45v1.45h-1.45zM162.57,379.83h1.45v1.45h-1.45zM162.57,369.11h1.45v1.45h-1.45zM162.57,358.39h1.45v1.45h-1.45zM162.57,347.67h1.45v1.45h-1.45zM162.57,336.95h1.45v1.45h-1.45zM162.57,326.23h1.45v1.45h-1.45zM162.57,315.51h1.45v1.45h-1.45zM162.57,304.79h1.45v1.45h-1.45zM162.57,294.07h1.45v1.45h-1.45zM162.57,283.35h1.45v1.45h-1.45zM162.57,272.63h1.45v1.45h-1.45zM162.57,261.91h1.45v1.45h-1.45zM162.57,251.19h1.45v1.45h-1.45zM162.57,240.47h1.45v1.45h-1.45zM162.57,229.75h1.45v1.45h-1.45zM162.57,219.03h1.45v1.45h-1.45zM162.57,208.31h1.45v1.45h-1.45zM162.57,197.59h1.45v1.45h-1.45zM162.57,186.87h1.45v1.45h-1.45zM162.57,176.15h1.45v1.45h-1.45zM162.57,165.43h1.45v1.45h-1.45zM162.57,154.71h1.45v1.45h-1.45zM162.57,143.99h1.45v1.45h-1.45zM162.57,133.27h1.45v1.45h-1.45zM162.57,122.55h1.45v1.45h-1.45zM162.57,111.83h1.45v1.45h-1.45zM162.57,101.11h1.45v1.45h-1.45zM162.57,90.39h1.45v1.45h-1.45zM162.57,79.67h1.45v1.45h-1.45zM162.57,68.95h1.45v1.45h-1.45zM162.57,58.23h1.45v1.45h-1.45zM162.57,47.51h1.45v1.45h-1.45zM162.57,36.79h1.45v1.45h-1.45zM230.07,390.55h1.45v1.45h-1.45zM230.07,379.83h1.45v1.45h-1.45zM230.07,369.11h1.45v1.45h-1.45zM230.07,358.39h1.45v1.45h-1.45zM230.07,347.67h1.45v1.45h-1.45zM230.07,336.95h1.45v1.45h-1.45zM230.07,326.23h1.45v1.45h-1.45zM230.07,315.51h1.45v1.45h-1.45zM230.07,304.79h1.45v1.45h-1.45zM230.07,294.07h1.45v1.45h-1.45zM230.07,283.35h1.45v1.45h-1.45zM230.07,272.63h1.45v1.45h-1.45zM230.07,261.91h1.45v1.45h-1.45zM230.07,251.19h1.45v1.45h-1.45zM230.07,240.47h1.45v1.45h-1.45zM230.07,229.75h1.45v1.45h-1.45zM230.07,219.03h1.45v1.45h-1.45zM230.07,208.31h1.45v1.45h-1.45zM230.07,197.59h1.45v1.45h-1.45zM230.07,186.87h1.45v1.45h-1.45zM230.07,176.15h1.45v1.45h-1.45zM230.07,165.43h1.45v1.45h-1.45zM230.07,154.71h1.45v1.45h-1.45zM230.07,143.99h1.45v1.45h-1.45zM230.07,133.27h1.45v1.45h-1.45zM230.07,122.55h1.45v1.45h-1.45zM230.07,111.83h1.45v1.45h-1.45zM230.07,101.11h1.45v1.45h-1.45zM230.07,90.39h1.45v1.45h-1.45zM230.07,79.67h1.45v1.45h-1.45zM230.07,68.95h1.45v1.45h-1.45zM230.07,58.23h1.45v1.45h-1.45zM230.07,47.51h1.45v1.45h-1.45zM230.07,36.79h1.45v1.45h-1.45zM297.57,390.55h1.45v1.45h-1.45zM297.57,379.83h1.45v1.45h-1.45zM297.57,369.11h1.45v1.45h-1.45zM297.57,358.39h1.45v1.45h-1.45zM297.57,347.67h1.45v1.45h-1.45zM297.57,336.95h1.45v1.45h-1.45zM297.57,326.23h1.45v1.45h-1.45zM297.57,315.51h1.45v1.45h-1.45zM297.57,304.79h1.45v1.45h-1.45zM297.57,294.07h1.45v1.45h-1.45zM297.57,283.35h1.45v1.45h-1.45zM297.57,272.63h1.45v1.45h-1.45zM297.57,261.91h1.45v1.45h-1.45zM297.57,251.19h1.45v1.45h-1.45zM297.57,240.47h1.45v1.45h-1.45zM297.57,229.75h1.45v1.45h-1.45zM297.57,219.03h1.45v1.45h-1.45zM297.57,208.31h1.45v1.45h-1.45zM297.57,197.59h1.45v1.45h-1.45zM297.57,186.87h1.45v1.45h-1.45zM297.57,176.15h1.45v1.45h-1.45zM297.57,165.43h1.45v1.45h-1.45zM297.57,154.71h1.45v1.45h-1.45zM297.57,143.99h1.45v1.45h-1.45zM297.57,133.27h1.45v1.45h-1.45zM297.57,122.55h1.45v1.45h-1.45zM297.57,111.83h1.45v1.45h-1.45zM297.57,101.11h1.45v1.45h-1.45zM297.57,90.39h1.45v1.45h-1.45zM297.57,79.67h1.45v1.45h-1.45zM297.57,68.95h1.45v1.45h-1.45zM297.57,58.23h1.45v1.45h-1.45zM297.57,47.51h1.45v1.45h-1.45zM297.57,36.79h1.45v1.45h-1.45zM365.07,390.55h1.45v1.45h-1.45zM365.07,379.83h1.45v1.45h-1.45zM365.07,369.11h1.45v1.45h-1.45zM365.07,358.39h1.45v1.45h-1.45zM365.07,347.67h1.45v1.45h-1.45zM365.07,336.95h1.45v1.45h-1.45zM365.07,326.23h1.45v1.45h-1.45zM365.07,315.51h1.45v1.45h-1.45zM365.07,304.79h1.45v1.45h-1.45zM365.07,294.07h1.45v1.45h-1.45zM365.07,283.35h1.45v1.45h-1.45zM365.07,272.63h1.45v1.45h-1.45zM365.07,261.91h1.45v1.45h-1.45zM365.07,251.19h1.45v1.45h-1.45zM365.07,240.47h1.45v1.45h-1.45zM365.07,229.75h1.45v1.45h-1.45zM365.07,219.03h1.45v1.45h-1.45zM365.07,208.31h1.45v1.45h-1.45zM365.07,197.59h1.45v1.45h-1.45zM365.07,186.87h1.45v1.45h-1.45zM365.07,176.15h1.45v1.45h-1.45zM365.07,165.43h1.45v1.45h-1.45zM365.07,154.71h1.45v1.45h-1.45zM365.07,143.99h1.45v1.45h-1.45zM365.07,133.27h1.45v1.45h-1.45zM365.07,122.55h1.45v1.45h-1.45zM365.07,111.83h1.45v1.45h-1.45zM365.07,101.11h1.45v1.45h-1.45zM365.07,90.39h1.45v1.45h-1.45zM365.07,79.67h1.45v1.45h-1.45zM365.07,68.95h1.45v1.45h-1.45zM365.07,58.23h1.45v1.45h-1.45zM365.07,47.51h1.45v1.45h-1.45zM365.07,36.79h1.45v1.45h-1.45zM432.57,390.55h1.45v1.45h-1.45zM432.57,379.83h1.45v1.45h-1.45zM432.57,369.11h1.45v1.45h-1.45zM432.57,358.39h1.45v1.45h-1.45zM432.57,347.67h1.45v1.45h-1.45zM432.57,336.95h1.45v1.45h-1.45zM432.57,326.23h1.45v1.45h-1.45zM432.57,315.51h1.45v1.45h-1.45zM432.57,304.79h1.45v1.45h-1.45zM432.57,294.07h1.45v1.45h-1.45zM432.57,283.35h1.45v1.45h-1.45zM432.57,272.63h1.45v1.45h-1.45zM432.57,261.91h1.45v1.45h-1.45zM432.57,251.19h1.45v1.45h-1.45zM432.57,240.47h1.45v1.45h-1.45zM432.57,229.75h1.45v1.45h-1.45zM432.57,219.03h1.45v1.45h-1.45zM432.57,208.31h1.45v1.45h-1.45zM432.57,197.59h1.45v1.45h-1.45zM432.57,186.87h1.45v1.45h-1.45zM432.57,176.15h1.45v1.45h-1.45zM432.57,165.43h1.45v1.45h-1.45zM432.57,154.71h1.45v1.45h-1.45zM432.57,143.99h1.45v1.45h-1.45zM432.57,133.27h1.45v1.45h-1.45zM432.57,122.55h1.45v1.45h-1.45zM432.57,111.83h1.45v1.45h-1.45zM432.57,101.11h1.45v1.45h-1.45zM432.57,90.39h1.45v1.45h-1.45zM432.57,79.67h1.45v1.45h-1.45zM432.57,68.95h1.45v1.45h-1.45zM432.57,58.23h1.45v1.45h-1.45zM432.57,47.51h1.45v1.45h-1.45zM432.57,36.79h1.45v1.45h-1.45zM500.07,390.55h1.45v1.45h-1.45zM500.07,379.83h1.45v1.45h-1.45zM500.07,369.11h1.45v1.45h-1.45zM500.07,358.39h1.45v1.45h-1.45zM500.07,347.67h1.45v1.45h-1.45zM500.07,336.95h1.45v1.45h-1.45zM500.07,326.23h1.45v1.45h-1.45zM500.07,315.51h1.45v1.45h-1.45zM500.07,304.79h1.45v1.45h-1.45zM500.07,294.07h1.45v1.45h-1.45zM500.07,283.35h1.45v1.45h-1.45zM500.07,272.63h1.45v1.45h-1.45zM500.07,261.91h1.45v1.45h-1.45zM500.07,251.19h1.45v1.45h-1.45zM500.07,240.47h1.45v1.45h-1.45zM500.07,229.75h1.45v1.45h-1.45zM500.07,219.03h1.45v1.45h-1.45zM500.07,208.31h1.45v1.45h-1.45zM500.07,197.59h1.45v1.45h-1.45zM500.07,186.87h1.45v1.45h-1.45zM500.07,176.15h1.45v1.45h-1.45zM500.07,165.43h1.45v1.45h-1.45zM500.07,154.71h1.45v1.45h-1.45zM500.07,143.99h1.45v1.45h-1.45zM500.07,133.27h1.45v1.45h-1.45zM500.07,122.55h1.45v1.45h-1.45zM500.07,111.83h1.45v1.45h-1.45zM500.07,101.11h1.45v1.45h-1.45zM500.07,90.39h1.45v1.45h-1.45zM500.07,79.67h1.45v1.45h-1.45zM500.07,68.95h1.45v1.45h-1.45zM500.07,58.23h1.45v1.45h-1.45zM500.07,47.51h1.45v1.45h-1.45zM500.07,36.79h1.45v1.45h-1.45z" fill="#404040"/>
<path d="M95.80,112.25H100.70M568.30,112.25H563.40M95.80,87.49H98.20M568.30,87.49H565.90M95.80,73.01H98.20M568.30,73.01H565.90M95.80,62.73H98.20M568.30,62.73H565.90M95.80,54.76H98.20M568.30,54.76H565.90M95.80,48.25H98.20M568.30,48.25H565.90M95.80,42.74H98.20M568.30,42.74H565.90M95.80,37.97H98.20M568.30,37.97H565.90M95.80,33.76H98.20M568.30,33.76H565.90M95.80,194.50H100.70M568.30,194.50H563.40M95.80,169.74H98.20M568.30,169.74H565.90M95.80,155.25H98.20M568.30,155.25H565.90M95.80,144.98H98.20M568.30,144.98H565.90M95.80,137.01H98.20M568.30,137.01H565.90M95.80,130.50H98.20M568.30,130.50H565.90M95.80,124.99H98.20M568.30,124.99H565.90M95.80,120.22H98.20M568.30,120.22H565.90M95.80,116.01H98.20M568.30,116.01H565.90M95.80,276.75H100.70M568.30,276.75H563.40M95.80,251.99H98.20M568.30,251.99H565.90M95.80,237.50H98.20M568.30,237.50H565.90M95.80,227.23H98.20M568.30,227.23H565.90M95.80,219.26H98.20M568.30,219.26H565.90M95.80,212.74H98.20M568.30,212.74H565.90M95.80,207.24H98.20M568.30,207.24H565.90M95.80,202.47H98.20M568.30,202.47H565.90M95.80,198.26H98.20M568.30,198.26H565.90M95.80,358.99H100.70M568.30,358.99H563.40M95.80,334.23H98.20M568.30,334.23H565.90M95.80,319.75H98.20M568.30,319.75H565.90M95.80,309.48H98.20M568.30,309.48H565.90M95.80,301.50H98.20M568.30,301.50H565.90M95.80,294.99H98.20M568.30,294.99H565.90M95.80,289.49H98.20M568.30,289.49H565.90M95.80,284.72H98.20M568.30,284.72H565.90M95.80,280.51H98.20M568.30,280.51H565.90M95.80,391.72H98.20M568.30,391.72H565.90M95.80,383.75H98.20M568.30,383.75H565.90M95.80,377.24H98.20M568.30,377.24H565.90M95.80,371.73H98.20M568.30,371.73H565.90M95.80,366.96H98.20M568.30,366.96H565.90M95.80,362.76H98.20M568.30,362.76H565.90M163.30,402.00V397.20M163.30,30.00V34.80M230.80,402.00V397.20M230.80,30.00V34.80M298.30,402.00V397.20M298.30,30.00V34.80M365.80,402.00V397.20M365.80,30.00V34.80M433.30,402.00V397.20M433.30,30.00V34.80M500.80,402.00V397.20M500.80,30.00V34.80" stroke="#000" stroke-width="1.45" fill="none"/>
<rect x="95.80" y="30.00" width="472.50" height="372.00" fill="none" stroke="#000" stroke-width="1.50"/>
<g fill="none" stroke-linejoin="round">
<path d="M95.80,32.67L96.80,32.69L97.80,32.72L98.80,32.75L99.80,32.78L100.80,32.83L101.80,32.87L102.80,32.92L103.80,32.98L104.80,33.04L105.80,33.11L106.80,33.18L107.80,33.26L108.80,33.34L109.80,33.43L110.80,33.52L111.80,33.62L112.80,33.72L113.80,33.83L114.80,33.95L115.80,34.06L116.80,34.19L117.80,34.32L118.80,34.45L119.80,34.59L120.80,34.73L121.80,34.88L122.80,35.03L123.80,35.19L124.80,35.35L125.80,35.52L126.80,35.69L127.80,35.87L128.80,36.05L129.80,36.24L130.80,36.43L131.80,36.63L132.80,36.83L133.80,37.04L134.80,37.25L135.80,37.46L136.80,37.68L137.80,37.91L138.80,38.14L139.80,38.37L140.80,38.61L141.80,38.85L142.80,39.10L143.80,39.35L144.80,39.61L145.80,39.87L146.80,40.14L147.80,40.41L148.80,40.69L149.80,40.97L150.80,41.25L151.80,41.54L152.80,41.83L153.80,42.13L154.80,42.43L155.80,42.74L156.80,43.05L157.80,43.37L158.80,43.69L159.80,44.01L160.80,44.34L161.80,44.67L162.80,45.01L163.80,45.35L164.80,45.70L165.80,46.05L166.80,46.40L167.80,46.76L168.80,47.12L169.80,47.49L170.80,47.86L171.80,48.23L172.80,48.61L173.80,49.00L174.80,49.38L175.80,49.78L176.80,50.17L177.80,50.57L178.80,50.97L179.80,51.38L180.80,51.79L181.80,52.21L182.80,52.63L183.80,53.05L184.80,53.48L185.80,53.91L186.80,54.35L187.80,54.79L188.80,55.23L189.80,55.68L190.80,56.13L191.80,56.58L192.80,57.04L193.80,57.50L194.80,57.97L195.80,58.44L196.80,58.91L197.80,59.39L198.80,59.87L199.80,60.36L200.80,60.84L201.80,61.34L202.80,61.83L203.80,62.33L204.80,62.83L205.80,63.34L206.80,63.85L207.80,64.37L208.80,64.88L209.80,65.40L210.80,65.93L211.80,66.46L212.80,66.99L213.80,67.52L214.80,68.06L215.80,68.60L216.80,69.15L217.80,69.70L218.80,70.25L219.80,70.81L220.80,71.37L221.80,71.93L222.80,72.50L223.80,73.07L224.80,73.65L225.80,74.22L226.80,74.81L227.80,75.39L228.80,75.98L229.80,76.57L230.80,77.17L231.80,77.77L232.80,78.37L233.80,78.98L234.80,79.59L235.80,80.21L236.80,80.83L237.80,81.45L238.80,82.07L239.80,82.70L240.80,83.34L241.80,83.97L242.80,84.61L243.80,85.26L244.80,85.91L245.80,86.56L246.80,87.21L247.80,87.87L248.80,88.53L249.80,89.20L250.80,89.87L251.80,90.55L252.80,91.22L253.80,91.91L254.80,92.59L255.80,93.28L256.80,93.97L257.80,94.67L258.80,95.37L259.80,96.07L260.80,96.78L261.80,97.49L262.80,98.21L263.80,98.93L264.80,99.65L265.80,100.38L266.80,101.11L267.80,101.85L268.80,102.59L269.80,103.33L270.80,104.08L271.80,104.83L272.80,105.58L273.80,106.34L274.80,107.10L275.80,107.87L276.80,108.64L277.80,109.41L278.80,110.19L279.80,110.97L280.80,111.75L281.80,112.54L282.80,113.34L283.80,114.13L284.80,114.94L285.80,115.74L286.80,116.55L287.80,117.36L288.80,118.18L289.80,119.00L290.80,119.83L291.80,120.65L292.80,121.49L293.80,122.32L294.80,123.17L295.80,124.01L296.80,124.86L297.80,125.71L298.80,126.57L299.80,127.43L300.80,128.30L301.80,129.16L302.80,130.04L303.80,130.91L304.80,131.80L305.80,132.68L306.80,133.57L307.80,134.46L308.80,135.36L309.80,136.26L310.80,137.17L311.80,138.08L312.80,138.99L313.80,139.91L314.80,140.83L315.80,141.76L316.80,142.69L317.80,143.62L318.80,144.56L319.80,145.50L320.80,146.45L321.80,147.40L322.80,148.35L323.80,149.31L324.80,150.28L325.80,151.24L326.80,152.21L327.80,153.19L328.80,154.17L329.80,155.15L330.80,156.14L331.80,157.14L332.80,158.13L333.80,159.13L334.80,160.14L335.80,161.15L336.80,162.16L337.80,163.18L338.80,164.20L339.80,165.23L340.80,166.26L341.80,167.29L342.80,168.33L343.80,169.37L344.80,170.42L345.80,171.47L346.80,172.53L347.80,173.59L348.80,174.65L349.80,175.72L350.80,176.80L351.80,177.87L352.80,178.96L353.80,180.04L354.80,181.13L355.80,182.23L356.80,183.33L357.80,184.43L358.80,185.54L359.80,186.65L360.80,187.77L361.80,188.89L362.80,190.01L363.80,191.14L364.80,192.28L365.80,193.41L366.80,194.56L367.80,195.70L368.80,196.86L369.80,198.01L370.80,199.17L371.80,200.34L372.80,201.51L373.80,202.68L374.80,203.86L375.80,205.04L376.80,206.23L377.80,207.42L378.80,208.62L379.80,209.82L380.80,211.02L381.80,212.23L382.80,213.44L383.80,214.66L384.80,215.88L385.80,217.11L386.80,218.34L387.80,219.58L388.80,220.82L389.80,222.07L390.80,223.31L391.80,224.57L392.80,225.83L393.80,227.09L394.80,228.36L395.80,229.63L396.80,230.91L397.80,232.19L398.80,233.48L399.80,234.77L400.80,236.06L401.80,237.36L402.80,238.67L403.80,239.98L404.80,241.29L405.80,242.61L406.80,243.93L407.80,245.26L408.80,246.59L409.80,247.93L410.80,249.27L411.80,250.61L412.80,251.96L413.80,253.32L414.80,254.68L415.80,256.04L416.80,257.41L417.80,258.79L418.80,260.17L419.80,261.56L420.80,262.95L421.80,264.35L422.80,265.77L423.80,267.19L424.80,268.63L425.80,270.08L426.80,271.54L427.80,273.01L428.80,274.50L429.80,276.00L430.80,277.52L431.80,279.06L432.80,280.61L433.80,282.18L434.80,283.78L435.80,285.39L436.80,287.01L437.80,288.65L438.80,290.31L439.80,291.98L440.00,292.31L440.41,293.07L440.98,294.10L441.66,295.35L442.40,296.70L443.17,298.10L443.92,299.46L444.61,300.68L445.20,301.70L445.71,302.53L446.17,303.24L446.61,303.87L447.01,304.44L447.39,304.96L447.75,305.46L448.08,305.97L448.40,306.50L448.68,307.04L448.91,307.56L449.11,308.06L449.29,308.55L449.48,309.04L449.68,309.52L449.91,310.01L450.20,310.50L450.55,311.00L450.94,311.51L451.36,312.01L451.81,312.52L452.26,313.02L452.70,313.52L453.12,314.01L453.50,314.50L453.86,314.98L454.21,315.46L454.56,315.94L454.89,316.42L455.20,316.88L455.49,317.34L455.76,317.78L456.00,318.20L456.20,318.60L456.36,318.97L456.50,319.33L456.61,319.68L456.72,320.02L456.83,320.37L456.95,320.72L457.10,321.10L457.27,321.48L457.44,321.84L457.62,322.21L457.80,322.58L457.99,322.98L458.19,323.40L458.39,323.87L458.60,324.40L458.77,324.94L458.89,325.48L458.98,326.04L459.10,326.64L459.27,327.32L459.54,328.08L459.93,328.97L460.50,330.00L461.28,331.22L462.26,332.63L463.39,334.18L464.60,335.81L465.84,337.48L467.06,339.14L468.20,340.73L469.20,342.20L470.08,343.58L470.91,344.92L471.68,346.23L472.42,347.51L473.12,348.77L473.80,350.00L474.45,351.21L475.10,352.40L475.72,353.56L476.31,354.67L476.86,355.74L477.39,356.80L477.92,357.86L478.44,358.93L478.96,360.04L479.50,361.20L480.04,362.41L480.57,363.65L481.09,364.92L481.61,366.21L482.15,367.51L482.70,368.81L483.28,370.11L483.90,371.40L484.56,372.70L485.25,374.01L485.97,375.34L486.71,376.67L487.46,377.98L488.21,379.26L488.96,380.51L489.70,381.70L490.45,382.84L491.23,383.94L492.03,385.00L492.82,386.04L493.59,387.05L494.32,388.04L495.00,389.02L495.60,390.00L496.14,390.98L496.64,391.96L497.09,392.93L497.50,393.88L497.87,394.80L498.19,395.68L498.47,396.52L498.70,397.30L498.87,398.04L498.98,398.77L499.03,399.46L499.04,400.11L499.03,400.70L499.01,401.22L499.00,401.66L499.00,402.00" stroke="#f8d6d8" stroke-width="3.50"/>
<path d="M95.80,30.49L96.80,30.43L97.80,30.38L98.80,30.33L99.80,30.28L100.80,30.24L101.80,30.19L102.80,30.15L103.80,30.12L104.80,30.08L105.80,30.05L106.80,30.02L107.80,30.00L108.80,29.97L109.80,29.95L110.80,29.93L111.80,29.92L112.80,29.90L113.80,29.89L114.80,29.89L115.80,29.88L116.80,29.88L117.80,29.88L118.80,29.89L119.80,29.90L120.80,29.91L121.80,29.92L122.80,29.94L123.80,29.96L124.80,29.98L125.80,30.00L126.80,30.03L127.80,30.07L128.80,30.10L129.80,30.14L130.80,30.18L131.80,30.22L132.80,30.27L133.80,30.32L134.80,30.38L135.80,30.43L136.80,30.49L137.80,30.56L138.80,30.63L139.80,30.70L140.80,30.77L141.80,30.85L142.80,30.93L143.80,31.01L144.80,31.10L145.80,31.19L146.80,31.29L147.80,31.38L148.80,31.49L149.80,31.59L150.80,31.70L151.80,31.81L152.80,31.93L153.80,32.05L154.80,32.17L155.80,32.29L156.80,32.42L157.80,32.56L158.80,32.70L159.80,32.84L160.80,32.98L161.80,33.13L162.80,33.28L163.80,33.44L164.80,33.60L165.80,33.76L166.80,33.93L167.80,34.10L168.80,34.28L169.80,34.46L170.80,34.64L171.80,34.83L172.80,35.02L173.80,35.22L174.80,35.41L175.80,35.62L176.80,35.83L177.80,36.04L178.80,36.25L179.80,36.47L180.80,36.70L181.80,36.92L182.80,37.16L183.80,37.39L184.80,37.63L185.80,37.88L186.80,38.12L187.80,38.38L188.80,38.64L189.80,38.90L190.80,39.16L191.80,39.43L192.80,39.71L193.80,39.99L194.80,40.27L195.80,40.56L196.80,40.85L197.80,41.15L198.80,41.45L199.80,41.75L200.80,42.06L201.80,42.38L202.80,42.70L203.80,43.02L204.80,43.35L205.80,43.68L206.80,44.02L207.80,44.36L208.80,44.71L209.80,45.06L210.80,45.41L211.80,45.78L212.80,46.14L213.80,46.51L214.80,46.89L215.80,47.27L216.80,47.65L217.80,48.04L218.80,48.43L219.80,48.83L220.80,49.24L221.80,49.65L222.80,50.06L223.80,50.48L224.80,50.90L225.80,51.33L226.80,51.76L227.80,52.20L228.80,52.64L229.80,53.09L230.80,53.55L231.80,54.00L232.80,54.46L233.80,54.93L234.80,55.40L235.80,55.88L236.80,56.36L237.80,56.85L238.80,57.34L239.80,57.83L240.80,58.33L241.80,58.84L242.80,59.35L243.80,59.86L244.80,60.38L245.80,60.91L246.80,61.44L247.80,61.97L248.80,62.51L249.80,63.05L250.80,63.60L251.80,64.15L252.80,64.71L253.80,65.27L254.80,65.84L255.80,66.41L256.80,66.99L257.80,67.57L258.80,68.15L259.80,68.74L260.80,69.34L261.80,69.93L262.80,70.54L263.80,71.15L264.80,71.76L265.80,72.38L266.80,73.00L267.80,73.63L268.80,74.26L269.80,74.89L270.80,75.53L271.80,76.18L272.80,76.83L273.80,77.48L274.80,78.14L275.80,78.80L276.80,79.47L277.80,80.14L278.80,80.82L279.80,81.50L280.80,82.19L281.80,82.88L282.80,83.57L283.80,84.27L284.80,84.98L285.80,85.69L286.80,86.40L287.80,87.12L288.80,87.84L289.80,88.56L290.80,89.30L291.80,90.03L292.80,90.77L293.80,91.51L294.80,92.26L295.80,93.02L296.80,93.77L297.80,94.54L298.80,95.30L299.80,96.07L300.80,96.85L301.80,97.63L302.80,98.41L303.80,99.20L304.80,99.99L305.80,100.79L306.80,101.59L307.80,102.39L308.80,103.20L309.80,104.02L310.80,104.84L311.80,105.66L312.80,106.49L313.80,107.32L314.80,108.15L315.80,108.99L316.80,109.84L317.80,110.69L318.80,111.54L319.80,112.40L320.80,113.26L321.80,114.13L322.80,115.00L323.80,115.87L324.80,116.75L325.80,117.63L326.80,118.52L327.80,119.41L328.80,120.30L329.80,121.20L330.80,122.11L331.80,123.02L332.80,123.93L333.80,124.85L334.80,125.77L335.80,126.69L336.80,127.62L337.80,128.55L338.80,129.49L339.80,130.43L340.80,131.38L341.80,132.33L342.80,133.28L343.80,134.24L344.80,135.20L345.80,136.17L346.80,137.14L347.80,138.11L348.80,139.09L349.80,140.07L350.80,141.06L351.80,142.05L352.80,143.05L353.80,144.04L354.80,145.05L355.80,146.05L356.80,147.07L357.80,148.08L358.80,149.10L359.80,150.12L360.80,151.15L361.80,152.18L362.80,153.22L363.80,154.26L364.80,155.30L365.80,156.35L366.80,157.40L367.80,158.45L368.80,159.51L369.80,160.58L370.80,161.64L371.80,162.71L372.80,163.79L373.80,164.87L374.80,165.95L375.80,167.04L376.80,168.13L377.80,169.22L378.80,170.32L379.80,171.42L380.80,172.53L381.80,173.64L382.80,174.75L383.80,175.87L384.80,176.99L385.80,178.12L386.80,179.25L387.80,180.39L388.80,181.52L389.80,182.67L390.80,183.81L391.80,184.97L392.80,186.12L393.80,187.28L394.80,188.44L395.80,189.61L396.80,190.79L397.80,191.96L398.80,193.15L399.80,194.33L400.80,195.52L401.80,196.72L402.80,197.92L403.80,199.12L404.80,200.33L405.80,201.55L406.80,202.77L407.80,203.99L408.80,205.22L409.80,206.45L410.80,207.69L411.80,208.93L412.80,210.18L413.80,211.43L414.80,212.69L415.80,213.95L416.80,215.22L417.80,216.49L418.80,217.77L419.80,219.05L420.80,220.34L421.80,221.64L422.80,222.93L423.80,224.24L424.80,225.55L425.80,226.86L426.80,228.18L427.80,229.51L428.80,230.84L429.80,232.18L430.80,233.52L431.80,234.86L432.80,236.22L433.80,237.58L434.80,238.94L435.80,240.31L436.80,241.69L437.80,243.07L438.80,244.45L439.80,245.85L440.00,246.13L441.22,247.84L442.90,250.21L444.91,253.04L447.11,256.13L449.36,259.31L451.52,262.37L453.44,265.13L455.00,267.40L456.17,269.15L457.07,270.56L457.79,271.72L458.40,272.74L458.97,273.73L459.57,274.78L460.29,276.00L461.20,277.50L462.29,279.29L463.50,281.28L464.79,283.42L466.14,285.64L467.50,287.88L468.85,290.07L470.16,292.17L471.40,294.10L472.59,295.89L473.77,297.60L474.93,299.24L476.07,300.82L477.18,302.36L478.24,303.86L479.25,305.33L480.20,306.80L481.08,308.26L481.91,309.70L482.69,311.12L483.42,312.50L484.11,313.84L484.77,315.12L485.40,316.35L486.00,317.50L486.56,318.53L487.06,319.42L487.51,320.22L487.94,320.99L488.35,321.76L488.77,322.59L489.22,323.52L489.70,324.60L490.21,325.83L490.72,327.17L491.23,328.59L491.76,330.08L492.31,331.62L492.88,333.18L493.47,334.74L494.10,336.30L494.78,337.89L495.51,339.54L496.29,341.24L497.08,342.94L497.86,344.63L498.62,346.27L499.34,347.84L500.00,349.30L500.60,350.68L501.16,352.02L501.70,353.30L502.20,354.52L502.68,355.68L503.14,356.77L503.58,357.78L504.00,358.70L504.38,359.50L504.71,360.17L504.99,360.75L505.27,361.26L505.55,361.74L505.87,362.22L506.25,362.73L506.70,363.30L507.25,363.90L507.87,364.47L508.55,365.05L509.27,365.64L509.99,366.26L510.71,366.93L511.38,367.67L512.00,368.50L512.57,369.44L513.12,370.50L513.65,371.63L514.16,372.81L514.65,374.00L515.12,375.16L515.57,376.28L516.00,377.30L516.40,378.22L516.77,379.06L517.11,379.85L517.44,380.62L517.75,381.39L518.06,382.19L518.38,383.05L518.70,384.00L519.04,385.04L519.39,386.16L519.74,387.32L520.08,388.53L520.42,389.74L520.74,390.96L521.03,392.15L521.30,393.30L521.54,394.48L521.77,395.72L521.97,396.99L522.16,398.23L522.33,399.40L522.48,400.45L522.60,401.33L522.70,402.00" stroke="#f8d6d8" stroke-width="3.50"/>
<path d="M95.80,31.81L96.80,31.87L97.80,31.92L98.80,31.99L99.80,32.05L100.80,32.12L101.80,32.20L102.80,32.28L103.80,32.36L104.80,32.45L105.80,32.54L106.80,32.63L107.80,32.73L108.80,32.83L109.80,32.94L110.80,33.05L111.80,33.16L112.80,33.28L113.80,33.40L114.80,33.53L115.80,33.66L116.80,33.80L117.80,33.93L118.80,34.08L119.80,34.22L120.80,34.37L121.80,34.53L122.80,34.68L123.80,34.85L124.80,35.01L125.80,35.18L126.80,35.36L127.80,35.53L128.80,35.71L129.80,35.90L130.80,36.09L131.80,36.28L132.80,36.48L133.80,36.68L134.80,36.89L135.80,37.10L136.80,37.31L137.80,37.53L138.80,37.75L139.80,37.97L140.80,38.20L141.80,38.43L142.80,38.67L143.80,38.91L144.80,39.15L145.80,39.40L146.80,39.65L147.80,39.91L148.80,40.17L149.80,40.43L150.80,40.70L151.80,40.97L152.80,41.25L153.80,41.53L154.80,41.81L155.80,42.10L156.80,42.39L157.80,42.69L158.80,42.98L159.80,43.29L160.80,43.59L161.80,43.90L162.80,44.22L163.80,44.54L164.80,44.86L165.80,45.18L166.80,45.51L167.80,45.85L168.80,46.19L169.80,46.53L170.80,46.87L171.80,47.22L172.80,47.57L173.80,47.93L174.80,48.29L175.80,48.66L176.80,49.02L177.80,49.40L178.80,49.77L179.80,50.15L180.80,50.54L181.80,50.92L182.80,51.32L183.80,51.71L184.80,52.11L185.80,52.51L186.80,52.92L187.80,53.33L188.80,53.75L189.80,54.16L190.80,54.59L191.80,55.01L192.80,55.44L193.80,55.88L194.80,56.31L195.80,56.75L196.80,57.20L197.80,57.65L198.80,58.10L199.80,58.56L200.80,59.02L201.80,59.48L202.80,59.95L203.80,60.42L204.80,60.90L205.80,61.37L206.80,61.86L207.80,62.34L208.80,62.84L209.80,63.33L210.80,63.83L211.80,64.33L212.80,64.84L213.80,65.35L214.80,65.86L215.80,66.38L216.80,66.90L217.80,67.42L218.80,67.95L219.80,68.48L220.80,69.02L221.80,69.56L222.80,70.10L223.80,70.65L224.80,71.20L225.80,71.75L226.80,72.31L227.80,72.87L228.80,73.44L229.80,74.01L230.80,74.58L231.80,75.16L232.80,75.74L233.80,76.33L234.80,76.92L235.80,77.51L236.80,78.10L237.80,78.70L238.80,79.31L239.80,79.91L240.80,80.53L241.80,81.14L242.80,81.76L243.80,82.38L244.80,83.01L245.80,83.64L246.80,84.27L247.80,84.91L248.80,85.55L249.80,86.19L250.80,86.84L251.80,87.49L252.80,88.15L253.80,88.81L254.80,89.47L255.80,90.14L256.80,90.81L257.80,91.48L258.80,92.16L259.80,92.84L260.80,93.53L261.80,94.21L262.80,94.91L263.80,95.60L264.80,96.30L265.80,97.01L266.80,97.71L267.80,98.43L268.80,99.14L269.80,99.86L270.80,100.58L271.80,101.31L272.80,102.04L273.80,102.77L274.80,103.51L275.80,104.25L276.80,104.99L277.80,105.74L278.80,106.49L279.80,107.24L280.80,108.00L281.80,108.77L282.80,109.53L283.80,110.30L284.80,111.07L285.80,111.85L286.80,112.63L287.80,113.42L288.80,114.20L289.80,115.00L290.80,115.79L291.80,116.59L292.80,117.39L293.80,118.20L294.80,119.01L295.80,119.82L296.80,120.64L297.80,121.46L298.80,122.28L299.80,123.11L300.80,123.94L301.80,124.78L302.80,125.62L303.80,126.46L304.80,127.31L305.80,128.15L306.80,129.01L307.80,129.87L308.80,130.73L309.80,131.59L310.80,132.46L311.80,133.33L312.80,134.20L313.80,135.08L314.80,135.96L315.80,136.85L316.80,137.74L317.80,138.63L318.80,139.53L319.80,140.43L320.80,141.33L321.80,142.24L322.80,143.15L323.80,144.06L324.80,144.98L325.80,145.90L326.80,146.83L327.80,147.76L328.80,148.69L329.80,149.63L330.80,150.56L331.80,151.51L332.80,152.45L333.80,153.40L334.80,154.36L335.80,155.31L336.80,156.28L337.80,157.24L338.80,158.21L339.80,159.18L340.80,160.15L341.80,161.13L342.80,162.11L343.80,163.10L344.80,164.09L345.80,165.08L346.80,166.08L347.80,167.08L348.80,168.08L349.80,169.09L350.80,170.10L351.80,171.11L352.80,172.13L353.80,173.15L354.80,174.17L355.80,175.20L356.80,176.23L357.80,177.27L358.80,178.31L359.80,179.35L360.80,180.40L361.80,181.44L362.80,182.50L363.80,183.55L364.80,184.61L365.80,185.68L366.80,186.74L367.80,187.81L368.80,188.89L369.80,189.96L370.80,191.04L371.80,192.13L372.80,193.21L373.80,194.31L374.80,195.40L375.80,196.50L376.80,197.60L377.80,198.70L378.80,199.81L379.80,200.93L380.80,202.04L381.80,203.16L382.80,204.28L383.80,205.41L384.80,206.54L385.80,207.67L386.80,208.81L387.80,209.95L388.80,211.09L389.80,212.24L390.80,213.39L391.80,214.54L392.80,215.70L393.80,216.86L394.80,218.02L395.80,219.19L396.80,220.36L397.80,221.53L398.80,222.71L399.80,223.89L400.80,225.08L401.80,226.26L402.80,227.46L403.80,228.65L404.80,229.85L405.80,231.05L406.80,232.26L407.80,233.46L408.80,234.68L409.80,235.89L410.80,237.11L411.80,238.33L412.80,239.56L413.80,240.79L414.80,242.02L415.80,243.26L416.80,244.50L417.80,245.74L418.80,247.01L419.80,248.31L420.80,249.65L421.80,251.06L422.80,252.54L423.80,254.10L424.80,255.77L425.80,257.55L426.80,259.42L427.80,261.27L428.80,263.02L429.80,264.61L430.80,266.06L431.80,267.40L432.80,268.65L433.80,269.84L434.80,271.00L435.80,272.15L436.80,273.32L437.80,274.53L438.80,275.79L439.80,277.09L440.00,277.35L440.28,277.76L440.65,278.31L441.09,278.96L441.58,279.68L442.11,280.44L442.65,281.22L443.18,281.98L443.70,282.70L444.22,283.40L444.77,284.11L445.34,284.84L445.92,285.57L446.49,286.28L447.03,286.99L447.54,287.66L448.00,288.30L448.37,288.84L448.65,289.27L448.88,289.63L449.09,290.00L449.33,290.42L449.64,290.96L450.05,291.66L450.60,292.60L451.34,293.85L452.27,295.39L453.30,297.13L454.40,298.98L455.50,300.82L456.53,302.57L457.46,304.13L458.20,305.40L458.76,306.37L459.20,307.14L459.54,307.74L459.81,308.23L460.04,308.66L460.27,309.09L460.51,309.55L460.80,310.10L461.11,310.71L461.41,311.33L461.70,311.95L462.00,312.58L462.31,313.22L462.64,313.87L463.00,314.53L463.40,315.20L463.84,315.84L464.30,316.41L464.78,316.97L465.29,317.55L465.82,318.20L466.39,318.96L466.98,319.88L467.60,321.00L468.24,322.36L468.91,323.92L469.60,325.65L470.31,327.49L471.07,329.39L471.86,331.29L472.70,333.15L473.60,334.90L474.58,336.58L475.64,338.23L476.76,339.87L477.92,341.49L479.09,343.12L480.24,344.74L481.35,346.36L482.40,348.00L483.40,349.68L484.40,351.43L485.38,353.19L486.33,354.95L487.25,356.66L488.12,358.30L488.94,359.82L489.70,361.20L490.39,362.43L491.02,363.53L491.59,364.53L492.12,365.44L492.61,366.30L493.09,367.11L493.55,367.91L494.00,368.70L494.43,369.46L494.83,370.16L495.19,370.82L495.54,371.44L495.88,372.06L496.23,372.68L496.60,373.32L497.00,374.00L497.44,374.69L497.92,375.36L498.41,376.02L498.91,376.71L499.41,377.43L499.88,378.20L500.31,379.05L500.70,380.00L501.03,381.09L501.32,382.34L501.57,383.69L501.81,385.08L502.02,386.46L502.24,387.78L502.46,388.98L502.70,390.00L502.95,390.82L503.22,391.49L503.48,392.04L503.74,392.52L504.00,392.98L504.25,393.47L504.48,394.02L504.70,394.70L504.90,395.54L505.10,396.51L505.30,397.57L505.47,398.64L505.64,399.68L505.78,400.63L505.90,401.42L506.00,402.00" stroke="#000" stroke-width="1.70" stroke-dasharray="7 5 1 5"/>
<path d="M95.80,30.55L96.80,30.47L97.80,30.40L98.80,30.32L99.80,30.26L100.80,30.19L101.80,30.13L102.80,30.07L103.80,30.01L104.80,29.96L105.80,29.91L106.80,29.86L107.80,29.82L108.80,29.78L109.80,29.75L110.80,29.72L111.80,29.69L112.80,29.66L113.80,29.64L114.80,29.62L115.80,29.61L116.80,29.60L117.80,29.59L118.80,29.59L119.80,29.59L120.80,29.59L121.80,29.59L122.80,29.60L123.80,29.62L124.80,29.63L125.80,29.66L126.80,29.68L127.80,29.71L128.80,29.74L129.80,29.77L130.80,29.81L131.80,29.85L132.80,29.90L133.80,29.95L134.80,30.00L135.80,30.06L136.80,30.12L137.80,30.18L138.80,30.25L139.80,30.32L140.80,30.39L141.80,30.47L142.80,30.56L143.80,30.64L144.80,30.73L145.80,30.82L146.80,30.92L147.80,31.02L148.80,31.13L149.80,31.23L150.80,31.35L151.80,31.46L152.80,31.58L153.80,31.71L154.80,31.83L155.80,31.96L156.80,32.10L157.80,32.24L158.80,32.38L159.80,32.52L160.80,32.67L161.80,32.83L162.80,32.99L163.80,33.15L164.80,33.31L165.80,33.48L166.80,33.65L167.80,33.83L168.80,34.01L169.80,34.20L170.80,34.39L171.80,34.58L172.80,34.78L173.80,34.98L174.80,35.18L175.80,35.39L176.80,35.60L177.80,35.82L178.80,36.04L179.80,36.26L180.80,36.49L181.80,36.72L182.80,36.96L183.80,37.20L184.80,37.44L185.80,37.69L186.80,37.94L187.80,38.20L188.80,38.46L189.80,38.73L190.80,38.99L191.80,39.27L192.80,39.54L193.80,39.83L194.80,40.11L195.80,40.40L196.80,40.69L197.80,40.99L198.80,41.29L199.80,41.60L200.80,41.91L201.80,42.22L202.80,42.54L203.80,42.86L204.80,43.19L205.80,43.52L206.80,43.85L207.80,44.19L208.80,44.54L209.80,44.88L210.80,45.24L211.80,45.59L212.80,45.95L213.80,46.32L214.80,46.69L215.80,47.06L216.80,47.44L217.80,47.82L218.80,48.20L219.80,48.59L220.80,48.99L221.80,49.39L222.80,49.79L223.80,50.20L224.80,50.61L225.80,51.03L226.80,51.45L227.80,51.87L228.80,52.30L229.80,52.74L230.80,53.17L231.80,53.62L232.80,54.06L233.80,54.51L234.80,54.97L235.80,55.43L236.80,55.90L237.80,56.36L238.80,56.84L239.80,57.32L240.80,57.80L241.80,58.29L242.80,58.78L243.80,59.27L244.80,59.77L245.80,60.28L246.80,60.79L247.80,61.30L248.80,61.82L249.80,62.35L250.80,62.87L251.80,63.41L252.80,63.94L253.80,64.48L254.80,65.03L255.80,65.58L256.80,66.14L257.80,66.70L258.80,67.26L259.80,67.83L260.80,68.40L261.80,68.98L262.80,69.56L263.80,70.15L264.80,70.74L265.80,71.34L266.80,71.94L267.80,72.55L268.80,73.16L269.80,73.78L270.80,74.40L271.80,75.02L272.80,75.65L273.80,76.28L274.80,76.92L275.80,77.57L276.80,78.21L277.80,78.87L278.80,79.52L279.80,80.19L280.80,80.85L281.80,81.52L282.80,82.20L283.80,82.88L284.80,83.56L285.80,84.25L286.80,84.94L287.80,85.64L288.80,86.34L289.80,87.05L290.80,87.76L291.80,88.47L292.80,89.19L293.80,89.91L294.80,90.64L295.80,91.37L296.80,92.11L297.80,92.85L298.80,93.60L299.80,94.35L300.80,95.10L301.80,95.86L302.80,96.62L303.80,97.39L304.80,98.16L305.80,98.93L306.80,99.71L307.80,100.50L308.80,101.28L309.80,102.08L310.80,102.87L311.80,103.67L312.80,104.48L313.80,105.29L314.80,106.10L315.80,106.92L316.80,107.74L317.80,108.56L318.80,109.39L319.80,110.23L320.80,111.06L321.80,111.90L322.80,112.75L323.80,113.60L324.80,114.45L325.80,115.31L326.80,116.17L327.80,117.04L328.80,117.91L329.80,118.78L330.80,119.66L331.80,120.54L332.80,121.43L333.80,122.32L334.80,123.21L335.80,124.11L336.80,125.01L337.80,125.91L338.80,126.82L339.80,127.74L340.80,128.65L341.80,129.57L342.80,130.50L343.80,131.42L344.80,132.36L345.80,133.29L346.80,134.23L347.80,135.18L348.80,136.12L349.80,137.07L350.80,138.03L351.80,138.99L352.80,139.95L353.80,140.91L354.80,141.88L355.80,142.86L356.80,143.83L357.80,144.81L358.80,145.80L359.80,146.79L360.80,147.78L361.80,148.77L362.80,149.77L363.80,150.77L364.80,151.78L365.80,152.79L366.80,153.80L367.80,154.82L368.80,155.84L369.80,156.86L370.80,157.89L371.80,158.92L372.80,159.96L373.80,160.99L374.80,162.04L375.80,163.08L376.80,164.13L377.80,165.18L378.80,166.23L379.80,167.29L380.80,168.36L381.80,169.42L382.80,170.49L383.80,171.56L384.80,172.64L385.80,173.72L386.80,174.80L387.80,175.88L388.80,176.97L389.80,178.06L390.80,179.16L391.80,180.26L392.80,181.36L393.80,182.47L394.80,183.57L395.80,184.69L396.80,185.80L397.80,186.92L398.80,188.04L399.80,189.17L400.80,190.29L401.80,191.43L402.80,192.56L403.80,193.70L404.80,194.84L405.80,195.98L406.80,197.13L407.80,198.28L408.80,199.43L409.80,200.59L410.80,201.75L411.80,202.91L412.80,204.08L413.80,205.24L414.80,206.42L415.80,207.59L416.80,208.77L417.80,209.95L418.80,211.14L419.80,212.33L420.80,213.52L421.80,214.72L422.80,215.92L423.80,217.12L424.80,218.33L425.80,219.54L426.80,220.75L427.80,221.97L428.80,223.19L429.80,224.42L430.80,225.65L431.80,226.89L432.80,228.12L433.80,229.37L434.80,230.61L435.80,231.87L436.80,233.12L437.80,234.38L438.80,235.65L439.80,236.91L440.00,237.17L441.16,238.74L442.70,240.83L444.53,243.32L446.56,246.08L448.72,249.00L450.90,251.94L453.02,254.78L455.00,257.40L456.92,259.89L458.90,262.42L460.90,264.94L462.89,267.45L464.84,269.89L466.69,272.25L468.43,274.50L470.00,276.60L471.39,278.52L472.62,280.27L473.72,281.89L474.74,283.44L475.71,284.95L476.67,286.46L477.65,288.03L478.70,289.70L479.83,291.51L481.01,293.45L482.22,295.46L483.41,297.46L484.57,299.41L485.66,301.24L486.64,302.89L487.50,304.30L488.20,305.43L488.77,306.31L489.23,307.02L489.62,307.61L489.99,308.14L490.35,308.67L490.74,309.27L491.20,310.00L491.71,310.83L492.22,311.68L492.74,312.55L493.27,313.46L493.82,314.38L494.39,315.33L494.98,316.30L495.60,317.30L496.28,318.34L497.02,319.43L497.80,320.56L498.59,321.70L499.37,322.84L500.11,323.97L500.80,325.06L501.40,326.10L501.87,327.06L502.21,327.96L502.48,328.82L502.72,329.66L502.98,330.52L503.31,331.41L503.77,332.36L504.40,333.40L505.25,334.55L506.28,335.79L507.44,337.09L508.67,338.43L509.92,339.78L511.11,341.11L512.19,342.39L513.10,343.60L513.85,344.77L514.49,345.93L515.04,347.08L515.53,348.19L515.98,349.25L516.41,350.25L516.84,351.17L517.30,352.00L517.76,352.71L518.19,353.31L518.61,353.82L519.01,354.27L519.42,354.69L519.83,355.10L520.25,355.53L520.70,356.00L521.17,356.46L521.66,356.86L522.16,357.24L522.66,357.62L523.17,358.06L523.69,358.58L524.20,359.21L524.70,360.00L525.20,361.00L525.72,362.20L526.23,363.54L526.74,364.96L527.25,366.37L527.75,367.73L528.23,368.96L528.70,370.00L529.15,370.85L529.57,371.56L529.99,372.18L530.39,372.73L530.79,373.22L531.19,373.70L531.59,374.18L532.00,374.70L532.42,375.22L532.86,375.72L533.29,376.19L533.73,376.66L534.16,377.14L534.57,377.62L534.95,378.14L535.30,378.70L535.61,379.30L535.89,379.92L536.15,380.56L536.38,381.22L536.61,381.90L536.83,382.60L537.06,383.30L537.30,384.00L537.55,384.72L537.80,385.47L538.05,386.23L538.30,387.00L538.55,387.77L538.80,388.53L539.05,389.28L539.30,390.00L539.55,390.69L539.78,391.34L540.02,391.98L540.26,392.61L540.50,393.24L540.75,393.89L541.02,394.58L541.30,395.30L541.62,396.12L541.99,397.03L542.38,398.00L542.77,398.98L543.15,399.92L543.50,400.76L543.79,401.47L544.00,402.00" stroke="#000" stroke-width="1.70" stroke-dasharray="7 5 1 5"/>
<path d="M95.80,32.67L96.80,32.69L97.80,32.72L98.80,32.75L99.80,32.78L100.80,32.83L101.80,32.87L102.80,32.92L103.80,32.98L104.80,33.04L105.80,33.11L106.80,33.18L107.80,33.26L108.80,33.34L109.80,33.43L110.80,33.52L111.80,33.62L112.80,33.72L113.80,33.83L114.80,33.95L115.80,34.06L116.80,34.19L117.80,34.32L118.80,34.45L119.80,34.59L120.80,34.73L121.80,34.88L122.80,35.03L123.80,35.19L124.80,35.35L125.80,35.52L126.80,35.69L127.80,35.87L128.80,36.05L129.80,36.24L130.80,36.43L131.80,36.63L132.80,36.83L133.80,37.04L134.80,37.25L135.80,37.46L136.80,37.68L137.80,37.91L138.80,38.14L139.80,38.37L140.80,38.61L141.80,38.85L142.80,39.10L143.80,39.35L144.80,39.61L145.80,39.87L146.80,40.14L147.80,40.41L148.80,40.69L149.80,40.97L150.80,41.25L151.80,41.54L152.80,41.83L153.80,42.13L154.80,42.43L155.80,42.74L156.80,43.05L157.80,43.37L158.80,43.69L159.80,44.01L160.80,44.34L161.80,44.67L162.80,45.01L163.80,45.35L164.80,45.70L165.80,46.05L166.80,46.40L167.80,46.76L168.80,47.12L169.80,47.49L170.80,47.86L171.80,48.23L172.80,48.61L173.80,49.00L174.80,49.38L175.80,49.78L176.80,50.17L177.80,50.57L178.80,50.97L179.80,51.38L180.80,51.79L181.80,52.21L182.80,52.63L183.80,53.05L184.80,53.48L185.80,53.91L186.80,54.35L187.80,54.79L188.80,55.23L189.80,55.68L190.80,56.13L191.80,56.58L192.80,57.04L193.80,57.50L194.80,57.97L195.80,58.44L196.80,58.91L197.80,59.39L198.80,59.87L199.80,60.36L200.80,60.84L201.80,61.34L202.80,61.83L203.80,62.33L204.80,62.83L205.80,63.34L206.80,63.85L207.80,64.37L208.80,64.88L209.80,65.40L210.80,65.93L211.80,66.46L212.80,66.99L213.80,67.52L214.80,68.06L215.80,68.60L216.80,69.15L217.80,69.70L218.80,70.25L219.80,70.81L220.80,71.37L221.80,71.93L222.80,72.50L223.80,73.07L224.80,73.65L225.80,74.22L226.80,74.81L227.80,75.39L228.80,75.98L229.80,76.57L230.80,77.17L231.80,77.77L232.80,78.37L233.80,78.98L234.80,79.59L235.80,80.21L236.80,80.83L237.80,81.45L238.80,82.07L239.80,82.70L240.80,83.34L241.80,83.97L242.80,84.61L243.80,85.26L244.80,85.91L245.80,86.56L246.80,87.21L247.80,87.87L248.80,88.53L249.80,89.20L250.80,89.87L251.80,90.55L252.80,91.22L253.80,91.91L254.80,92.59L255.80,93.28L256.80,93.97L257.80,94.67L258.80,95.37L259.80,96.07L260.80,96.78L261.80,97.49L262.80,98.21L263.80,98.93L264.80,99.65L265.80,100.38L266.80,101.11L267.80,101.85L268.80,102.59L269.80,103.33L270.80,104.08L271.80,104.83L272.80,105.58L273.80,106.34L274.80,107.10L275.80,107.87L276.80,108.64L277.80,109.41L278.80,110.19L279.80,110.97L280.80,111.75L281.80,112.54L282.80,113.34L283.80,114.13L284.80,114.94L285.80,115.74L286.80,116.55L287.80,117.36L288.80,118.18L289.80,119.00L290.80,119.83L291.80,120.65L292.80,121.49L293.80,122.32L294.80,123.17L295.80,124.01L296.80,124.86L297.80,125.71L298.80,126.57L299.80,127.43L300.80,128.30L301.80,129.16L302.80,130.04L303.80,130.91L304.80,131.80L305.80,132.68L306.80,133.57L307.80,134.46L308.80,135.36L309.80,136.26L310.80,137.17L311.80,138.08L312.80,138.99L313.80,139.91L314.80,140.83L315.80,141.76L316.80,142.69L317.80,143.62L318.80,144.56L319.80,145.50L320.80,146.45L321.80,147.40L322.80,148.35L323.80,149.31L324.80,150.28L325.80,151.24L326.80,152.21L327.80,153.19L328.80,154.17L329.80,155.15L330.80,156.14L331.80,157.14L332.80,158.13L333.80,159.13L334.80,160.14L335.80,161.15L336.80,162.16L337.80,163.18L338.80,164.20L339.80,165.23L340.80,166.26L341.80,167.29L342.80,168.33L343.80,169.37L344.80,170.42L345.80,171.47L346.80,172.53L347.80,173.59L348.80,174.65L349.80,175.72L350.80,176.80L351.80,177.87L352.80,178.96L353.80,180.04L354.80,181.13L355.80,182.23L356.80,183.33L357.80,184.43L358.80,185.54L359.80,186.65L360.80,187.77L361.80,188.89L362.80,190.01L363.80,191.14L364.80,192.28L365.80,193.41L366.80,194.56L367.80,195.70L368.80,196.86L369.80,198.01L370.80,199.17L371.80,200.34L372.80,201.51L373.80,202.68L374.80,203.86L375.80,205.04L376.80,206.23L377.80,207.42L378.80,208.62L379.80,209.82L380.80,211.02L381.80,212.23L382.80,213.44L383.80,214.66L384.80,215.88L385.80,217.11L386.80,218.34L387.80,219.58L388.80,220.82L389.80,222.07L390.80,223.31L391.80,224.57L392.80,225.83L393.80,227.09L394.80,228.36L395.80,229.63L396.80,230.91L397.80,232.19L398.80,233.48L399.80,234.77L400.80,236.06L401.80,237.36L402.80,238.67L403.80,239.98L404.80,241.29L405.80,242.61L406.80,243.93L407.80,245.26L408.80,246.59L409.80,247.93L410.80,249.27L411.80,250.61L412.80,251.96L413.80,253.32L414.80,254.68L415.80,256.04L416.80,257.41L417.80,258.79L418.80,260.17L419.80,261.56L420.80,262.95L421.80,264.35L422.80,265.77L423.80,267.19L424.80,268.63L425.80,270.08L426.80,271.54L427.80,273.01L428.80,274.50L429.80,276.00L430.80,277.52L431.80,279.06L432.80,280.61L433.80,282.18L434.80,283.78L435.80,285.39L436.80,287.01L437.80,288.65L438.80,290.31L439.80,291.98L440.00,292.31L440.41,293.07L440.98,294.10L441.66,295.35L442.40,296.70L443.17,298.10L443.92,299.46L444.61,300.68L445.20,301.70L445.71,302.53L446.17,303.24L446.61,303.87L447.01,304.44L447.39,304.96L447.75,305.46L448.08,305.97L448.40,306.50L448.68,307.04L448.91,307.56L449.11,308.06L449.29,308.55L449.48,309.04L449.68,309.52L449.91,310.01L450.20,310.50L450.55,311.00L450.94,311.51L451.36,312.01L451.81,312.52L452.26,313.02L452.70,313.52L453.12,314.01L453.50,314.50L453.86,314.98L454.21,315.46L454.56,315.94L454.89,316.42L455.20,316.88L455.49,317.34L455.76,317.78L456.00,318.20L456.20,318.60L456.36,318.97L456.50,319.33L456.61,319.68L456.72,320.02L456.83,320.37L456.95,320.72L457.10,321.10L457.27,321.48L457.44,321.84L457.62,322.21L457.80,322.58L457.99,322.98L458.19,323.40L458.39,323.87L458.60,324.40L458.77,324.94L458.89,325.48L458.98,326.04L459.10,326.64L459.27,327.32L459.54,328.08L459.93,328.97L460.50,330.00L461.28,331.22L462.26,332.63L463.39,334.18L464.60,335.81L465.84,337.48L467.06,339.14L468.20,340.73L469.20,342.20L470.08,343.58L470.91,344.92L471.68,346.23L472.42,347.51L473.12,348.77L473.80,350.00L474.45,351.21L475.10,352.40L475.72,353.56L476.31,354.67L476.86,355.74L477.39,356.80L477.92,357.86L478.44,358.93L478.96,360.04L479.50,361.20L480.04,362.41L480.57,363.65L481.09,364.92L481.61,366.21L482.15,367.51L482.70,368.81L483.28,370.11L483.90,371.40L484.56,372.70L485.25,374.01L485.97,375.34L486.71,376.67L487.46,377.98L488.21,379.26L488.96,380.51L489.70,381.70L490.45,382.84L491.23,383.94L492.03,385.00L492.82,386.04L493.59,387.05L494.32,388.04L495.00,389.02L495.60,390.00L496.14,390.98L496.64,391.96L497.09,392.93L497.50,393.88L497.87,394.80L498.19,395.68L498.47,396.52L498.70,397.30L498.87,398.04L498.98,398.77L499.03,399.46L499.04,400.11L499.03,400.70L499.01,401.22L499.00,401.66L499.00,402.00" stroke="#be2030" stroke-width="1.55"/>
<path d="M95.80,30.49L96.80,30.43L97.80,30.38L98.80,30.33L99.80,30.28L100.80,30.24L101.80,30.19L102.80,30.15L103.80,30.12L104.80,30.08L105.80,30.05L106.80,30.02L107.80,30.00L108.80,29.97L109.80,29.95L110.80,29.93L111.80,29.92L112.80,29.90L113.80,29.89L114.80,29.89L115.80,29.88L116.80,29.88L117.80,29.88L118.80,29.89L119.80,29.90L120.80,29.91L121.80,29.92L122.80,29.94L123.80,29.96L124.80,29.98L125.80,30.00L126.80,30.03L127.80,30.07L128.80,30.10L129.80,30.14L130.80,30.18L131.80,30.22L132.80,30.27L133.80,30.32L134.80,30.38L135.80,30.43L136.80,30.49L137.80,30.56L138.80,30.63L139.80,30.70L140.80,30.77L141.80,30.85L142.80,30.93L143.80,31.01L144.80,31.10L145.80,31.19L146.80,31.29L147.80,31.38L148.80,31.49L149.80,31.59L150.80,31.70L151.80,31.81L152.80,31.93L153.80,32.05L154.80,32.17L155.80,32.29L156.80,32.42L157.80,32.56L158.80,32.70L159.80,32.84L160.80,32.98L161.80,33.13L162.80,33.28L163.80,33.44L164.80,33.60L165.80,33.76L166.80,33.93L167.80,34.10L168.80,34.28L169.80,34.46L170.80,34.64L171.80,34.83L172.80,35.02L173.80,35.22L174.80,35.41L175.80,35.62L176.80,35.83L177.80,36.04L178.80,36.25L179.80,36.47L180.80,36.70L181.80,36.92L182.80,37.16L183.80,37.39L184.80,37.63L185.80,37.88L186.80,38.12L187.80,38.38L188.80,38.64L189.80,38.90L190.80,39.16L191.80,39.43L192.80,39.71L193.80,39.99L194.80,40.27L195.80,40.56L196.80,40.85L197.80,41.15L198.80,41.45L199.80,41.75L200.80,42.06L201.80,42.38L202.80,42.70L203.80,43.02L204.80,43.35L205.80,43.68L206.80,44.02L207.80,44.36L208.80,44.71L209.80,45.06L210.80,45.41L211.80,45.78L212.80,46.14L213.80,46.51L214.80,46.89L215.80,47.27L216.80,47.65L217.80,48.04L218.80,48.43L219.80,48.83L220.80,49.24L221.80,49.65L222.80,50.06L223.80,50.48L224.80,50.90L225.80,51.33L226.80,51.76L227.80,52.20L228.80,52.64L229.80,53.09L230.80,53.55L231.80,54.00L232.80,54.46L233.80,54.93L234.80,55.40L235.80,55.88L236.80,56.36L237.80,56.85L238.80,57.34L239.80,57.83L240.80,58.33L241.80,58.84L242.80,59.35L243.80,59.86L244.80,60.38L245.80,60.91L246.80,61.44L247.80,61.97L248.80,62.51L249.80,63.05L250.80,63.60L251.80,64.15L252.80,64.71L253.80,65.27L254.80,65.84L255.80,66.41L256.80,66.99L257.80,67.57L258.80,68.15L259.80,68.74L260.80,69.34L261.80,69.93L262.80,70.54L263.80,71.15L264.80,71.76L265.80,72.38L266.80,73.00L267.80,73.63L268.80,74.26L269.80,74.89L270.80,75.53L271.80,76.18L272.80,76.83L273.80,77.48L274.80,78.14L275.80,78.80L276.80,79.47L277.80,80.14L278.80,80.82L279.80,81.50L280.80,82.19L281.80,82.88L282.80,83.57L283.80,84.27L284.80,84.98L285.80,85.69L286.80,86.40L287.80,87.12L288.80,87.84L289.80,88.56L290.80,89.30L291.80,90.03L292.80,90.77L293.80,91.51L294.80,92.26L295.80,93.02L296.80,93.77L297.80,94.54L298.80,95.30L299.80,96.07L300.80,96.85L301.80,97.63L302.80,98.41L303.80,99.20L304.80,99.99L305.80,100.79L306.80,101.59L307.80,102.39L308.80,103.20L309.80,104.02L310.80,104.84L311.80,105.66L312.80,106.49L313.80,107.32L314.80,108.15L315.80,108.99L316.80,109.84L317.80,110.69L318.80,111.54L319.80,112.40L320.80,113.26L321.80,114.13L322.80,115.00L323.80,115.87L324.80,116.75L325.80,117.63L326.80,118.52L327.80,119.41L328.80,120.30L329.80,121.20L330.80,122.11L331.80,123.02L332.80,123.93L333.80,124.85L334.80,125.77L335.80,126.69L336.80,127.62L337.80,128.55L338.80,129.49L339.80,130.43L340.80,131.38L341.80,132.33L342.80,133.28L343.80,134.24L344.80,135.20L345.80,136.17L346.80,137.14L347.80,138.11L348.80,139.09L349.80,140.07L350.80,141.06L351.80,142.05L352.80,143.05L353.80,144.04L354.80,145.05L355.80,146.05L356.80,147.07L357.80,148.08L358.80,149.10L359.80,150.12L360.80,151.15L361.80,152.18L362.80,153.22L363.80,154.26L364.80,155.30L365.80,156.35L366.80,157.40L367.80,158.45L368.80,159.51L369.80,160.58L370.80,161.64L371.80,162.71L372.80,163.79L373.80,164.87L374.80,165.95L375.80,167.04L376.80,168.13L377.80,169.22L378.80,170.32L379.80,171.42L380.80,172.53L381.80,173.64L382.80,174.75L383.80,175.87L384.80,176.99L385.80,178.12L386.80,179.25L387.80,180.39L388.80,181.52L389.80,182.67L390.80,183.81L391.80,184.97L392.80,186.12L393.80,187.28L394.80,188.44L395.80,189.61L396.80,190.79L397.80,191.96L398.80,193.15L399.80,194.33L400.80,195.52L401.80,196.72L402.80,197.92L403.80,199.12L404.80,200.33L405.80,201.55L406.80,202.77L407.80,203.99L408.80,205.22L409.80,206.45L410.80,207.69L411.80,208.93L412.80,210.18L413.80,211.43L414.80,212.69L415.80,213.95L416.80,215.22L417.80,216.49L418.80,217.77L419.80,219.05L420.80,220.34L421.80,221.64L422.80,222.93L423.80,224.24L424.80,225.55L425.80,226.86L426.80,228.18L427.80,229.51L428.80,230.84L429.80,232.18L430.80,233.52L431.80,234.86L432.80,236.22L433.80,237.58L434.80,238.94L435.80,240.31L436.80,241.69L437.80,243.07L438.80,244.45L439.80,245.85L440.00,246.13L441.22,247.84L442.90,250.21L444.91,253.04L447.11,256.13L449.36,259.31L451.52,262.37L453.44,265.13L455.00,267.40L456.17,269.15L457.07,270.56L457.79,271.72L458.40,272.74L458.97,273.73L459.57,274.78L460.29,276.00L461.20,277.50L462.29,279.29L463.50,281.28L464.79,283.42L466.14,285.64L467.50,287.88L468.85,290.07L470.16,292.17L471.40,294.10L472.59,295.89L473.77,297.60L474.93,299.24L476.07,300.82L477.18,302.36L478.24,303.86L479.25,305.33L480.20,306.80L481.08,308.26L481.91,309.70L482.69,311.12L483.42,312.50L484.11,313.84L484.77,315.12L485.40,316.35L486.00,317.50L486.56,318.53L487.06,319.42L487.51,320.22L487.94,320.99L488.35,321.76L488.77,322.59L489.22,323.52L489.70,324.60L490.21,325.83L490.72,327.17L491.23,328.59L491.76,330.08L492.31,331.62L492.88,333.18L493.47,334.74L494.10,336.30L494.78,337.89L495.51,339.54L496.29,341.24L497.08,342.94L497.86,344.63L498.62,346.27L499.34,347.84L500.00,349.30L500.60,350.68L501.16,352.02L501.70,353.30L502.20,354.52L502.68,355.68L503.14,356.77L503.58,357.78L504.00,358.70L504.38,359.50L504.71,360.17L504.99,360.75L505.27,361.26L505.55,361.74L505.87,362.22L506.25,362.73L506.70,363.30L507.25,363.90L507.87,364.47L508.55,365.05L509.27,365.64L509.99,366.26L510.71,366.93L511.38,367.67L512.00,368.50L512.57,369.44L513.12,370.50L513.65,371.63L514.16,372.81L514.65,374.00L515.12,375.16L515.57,376.28L516.00,377.30L516.40,378.22L516.77,379.06L517.11,379.85L517.44,380.62L517.75,381.39L518.06,382.19L518.38,383.05L518.70,384.00L519.04,385.04L519.39,386.16L519.74,387.32L520.08,388.53L520.42,389.74L520.74,390.96L521.03,392.15L521.30,393.30L521.54,394.48L521.77,395.72L521.97,396.99L522.16,398.23L522.33,399.40L522.48,400.45L522.60,401.33L522.70,402.00" stroke="#be2030" stroke-width="1.55"/>
</g>
<path d="M95.80,30.00H568.30" stroke="#000" stroke-opacity="0.5" stroke-width="1.5" fill="none"/>
<ellipse cx="398.8" cy="228.8" rx="5.9" ry="14.6" fill="none" stroke="#000" stroke-width="1.5"/>
<ellipse cx="441.6" cy="248" rx="6.1" ry="14.4" fill="none" stroke="#000" stroke-width="1.5"/>
<path d="M92.8,491H124.6" stroke="#000" stroke-width="1.70" stroke-dasharray="1 5 7 5" fill="none"/>
<path d="M92.8,514.4H124.6" stroke="#f8d6d8" stroke-width="3.2" fill="none"/>
<path d="M92.8,514.4H124.6" stroke="#be2030" stroke-width="1.6" fill="none"/>
<path d="M70.6,107.60H78.4M70.6,190.00H78.4M70.6,272.60H78.4M70.6,354.30H78.4" stroke="#000" stroke-width="1.0" fill="none"/>
<path d="M156,490.5H166.2M156,493.7H166.2M156,514.5H166.2M156,517.7H166.2" stroke="#000" stroke-width="1.05" fill="none"/>
<g font-family="'Liberation Serif', serif" fill="#000" stroke="#000" stroke-width="0.15"><text transform="matrix(1.0400 0 0 1.0000 61.513 37.131)" font-size="18.00">10</text><text transform="matrix(1.0400 0 0 1.0000 51.513 118.831)" font-size="18.00">10</text><text transform="matrix(1.0400 0 0 1.0000 51.513 200.831)" font-size="18.00">10</text><text transform="matrix(1.0400 0 0 1.0000 51.513 283.031)" font-size="18.00">10</text><text transform="matrix(1.0400 0 0 1.0000 51.513 364.431)" font-size="18.00">10</text><text transform="matrix(1.1000 0 0 1.0000 79.871 30.715)" font-size="12.00">0</text><text transform="matrix(1.1000 0 0 1.0000 78.935 112.070)" font-size="12.00">1</text><text transform="matrix(1.1000 0 0 1.0000 79.887 193.885)" font-size="12.00">2</text><text transform="matrix(1.1000 0 0 1.0000 79.667 276.822)" font-size="12.00">3</text><text transform="matrix(1.1000 0 0 1.0000 79.946 358.278)" font-size="12.00">4</text><text transform="matrix(1.0400 0 0 1.0000 90.274 424.475)" font-size="17.60">5</text><text transform="matrix(1.0400 0 0 1.0000 157.947 424.336)" font-size="17.60">6</text><text transform="matrix(1.0400 0 0 1.0000 225.153 424.940)" font-size="17.60">7</text><text transform="matrix(1.0400 0 0 1.0000 293.626 424.218)" font-size="17.60">8</text><text transform="matrix(1.0400 0 0 1.0000 360.911 424.393)" font-size="17.60">9</text><text transform="matrix(1.0400 0 0 1.0000 422.981 424.203)" font-size="17.60">10</text><text transform="matrix(1.0400 0 0 1.0000 491.381 424.157)" font-size="17.60">11</text><text transform="matrix(1.0400 0 0 1.0000 559.110 424.161)" font-size="17.60">12</text><text transform="matrix(1.0068 0 0 0.9752 285.339 453.362)" font-size="18.00">PAPR<tspan font-size="12.5" dy="3.2">0</tspan><tspan dy="-3.2" dx="3"> (dB)</tspan></text><text transform="matrix(0 -1.03276 1.00499 0 35.253 296.188)" font-size="18.00">Pr [PAPR &gt; PAPR<tspan font-size="12.5" dy="3.2">0</tspan><tspan dy="-3.2">]</tspan></text><text transform="matrix(1.0683 0 0 1.0607 343.887 258.898)" font-size="17.60">20<tspan dx="-1.5"> MHz</tspan></text><text transform="matrix(1.0572 0 0 1.0627 438.741 230.507)" font-size="17.60">40<tspan dx="-1.5"> MHz</tspan></text><text transform="matrix(1.0378 0 0 1.0030 136.027 496.590)" font-size="18.00"><tspan font-style="italic">Q</tspan></text><text transform="matrix(1.0378 0 0 1.0030 136.027 520.590)" font-size="18.00"><tspan font-style="italic">Q</tspan></text><text transform="matrix(1.0000 0 0 1.0000 172.786 496.544)" font-size="17.00">1</text><text transform="matrix(1.0000 0 0 1.0000 172.630 519.649)" font-size="17.00">4</text></g>
</svg>
</body></html>
